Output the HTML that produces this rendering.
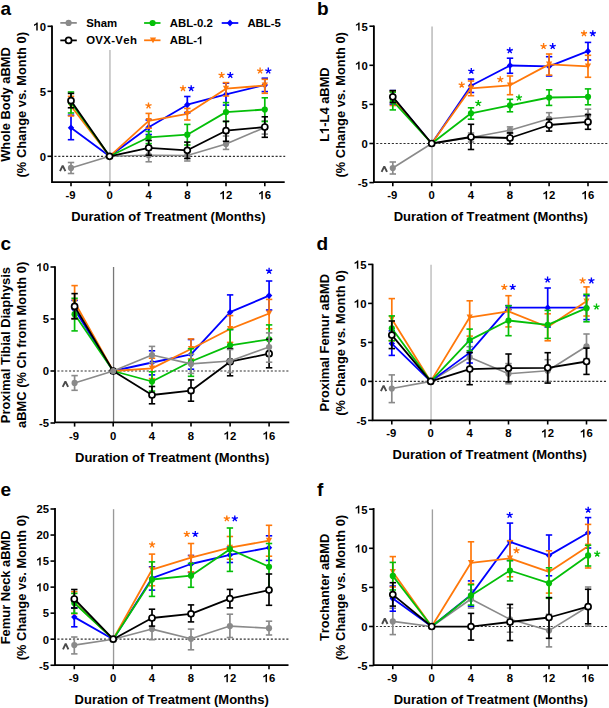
<!DOCTYPE html>
<html><head><meta charset="utf-8"><style>
html,body{margin:0;padding:0;background:#fff;width:609px;height:708px;overflow:hidden;position:relative;font-family:"Liberation Sans",sans-serif}
</style></head><body>
<svg width="609" height="708" viewBox="0 0 609 708" style="position:absolute;left:0;top:0">
<g font-family='"Liberation Sans", sans-serif' style="font-kerning:none">
<text x="0.50" y="15.20" font-size="19" text-anchor="start" fill="#000" font-weight="bold" >a</text>
<line x1="109.95" y1="50.00" x2="109.95" y2="182.10" stroke="#b8b8b8" stroke-width="1.4" />
<line x1="54.40" y1="156.30" x2="285.20" y2="156.30" stroke="#303030" stroke-width="1.2" stroke-dasharray="2.1 1.78"/>
<line x1="47.50" y1="156.30" x2="52.00" y2="156.30" stroke="#000" stroke-width="1.6" />
<text x="39.72" y="160.60" font-size="11.3" fill="#000" font-weight="bold" >0</text>
<line x1="47.50" y1="91.30" x2="52.00" y2="91.30" stroke="#000" stroke-width="1.6" />
<text x="39.72" y="95.60" font-size="11.3" fill="#000" font-weight="bold" >5</text>
<line x1="47.50" y1="26.30" x2="52.00" y2="26.30" stroke="#000" stroke-width="1.6" />
<path d="M37.72,30.60 L37.72,22.51 L36.65,22.51 L36.09,23.26 L35.13,23.99 L34.00,24.50 L34.00,25.91 L35.01,25.52 L35.69,25.12 L36.26,24.72 L36.26,30.60Z" fill="#000"/>
<text x="39.72" y="30.60" font-size="11.3" fill="#000" font-weight="bold" >0</text>
<path d="M52.00,25.40 L52.00,182.10 L284.70,182.10" fill="none" stroke="#000" stroke-width="1.85"/>
<line x1="71.00" y1="182.10" x2="71.00" y2="186.30" stroke="#000" stroke-width="1.6" />
<text x="65.38" y="199.20" font-size="11.3" fill="#000" font-weight="bold" >-9</text>
<line x1="109.60" y1="182.10" x2="109.60" y2="186.30" stroke="#000" stroke-width="1.6" />
<text x="106.46" y="199.20" font-size="11.3" fill="#000" font-weight="bold" >0</text>
<line x1="148.70" y1="182.10" x2="148.70" y2="186.30" stroke="#000" stroke-width="1.6" />
<text x="145.56" y="199.20" font-size="11.3" fill="#000" font-weight="bold" >4</text>
<line x1="187.30" y1="182.10" x2="187.30" y2="186.30" stroke="#000" stroke-width="1.6" />
<text x="184.16" y="199.20" font-size="11.3" fill="#000" font-weight="bold" >8</text>
<line x1="226.00" y1="182.10" x2="226.00" y2="186.30" stroke="#000" stroke-width="1.6" />
<path d="M224.01,199.20 L224.01,191.11 L222.94,191.11 L222.37,191.85 L221.41,192.59 L220.28,193.10 L220.28,194.51 L221.30,194.11 L221.98,193.72 L222.54,193.32 L222.54,199.20Z" fill="#000"/>
<text x="226.00" y="199.20" font-size="11.3" fill="#000" font-weight="bold" >2</text>
<line x1="264.80" y1="182.10" x2="264.80" y2="186.30" stroke="#000" stroke-width="1.6" />
<path d="M262.81,199.20 L262.81,191.11 L261.74,191.11 L261.17,191.85 L260.21,192.59 L259.08,193.10 L259.08,194.51 L260.10,194.11 L260.78,193.72 L261.34,193.32 L261.34,199.20Z" fill="#000"/>
<text x="264.80" y="199.20" font-size="11.3" fill="#000" font-weight="bold" >6</text>
<text x="168.35" y="220.70" font-size="13" text-anchor="middle" fill="#000" font-weight="bold" >Duration of Treatment (Months)</text>
<text transform="translate(10.20,104.50) rotate(-90)" font-size="12.9" text-anchor="middle" font-weight="bold">Whole Body aBMD</text>
<text transform="translate(25.60,104.75) rotate(-90)" font-size="12.9" text-anchor="middle" font-weight="bold">(% Change vs. Month 0)</text>
<polyline fill="none" stroke="#8a8a8a" stroke-width="1.6" stroke-linejoin="round" points="71.00,167.90 109.60,156.30 148.70,155.20 187.30,155.50 226.00,144.00 264.80,127.50"/>
<line x1="71.00" y1="162.50" x2="71.00" y2="173.50" stroke="#8a8a8a" stroke-width="1.7" />
<line x1="67.80" y1="162.50" x2="74.20" y2="162.50" stroke="#8a8a8a" stroke-width="1.6" />
<line x1="67.80" y1="173.50" x2="74.20" y2="173.50" stroke="#8a8a8a" stroke-width="1.6" />
<line x1="148.70" y1="148.80" x2="148.70" y2="161.80" stroke="#8a8a8a" stroke-width="1.7" />
<line x1="145.50" y1="148.80" x2="151.90" y2="148.80" stroke="#8a8a8a" stroke-width="1.6" />
<line x1="145.50" y1="161.80" x2="151.90" y2="161.80" stroke="#8a8a8a" stroke-width="1.6" />
<line x1="187.30" y1="150.00" x2="187.30" y2="161.00" stroke="#8a8a8a" stroke-width="1.7" />
<line x1="184.10" y1="150.00" x2="190.50" y2="150.00" stroke="#8a8a8a" stroke-width="1.6" />
<line x1="184.10" y1="161.00" x2="190.50" y2="161.00" stroke="#8a8a8a" stroke-width="1.6" />
<line x1="226.00" y1="136.00" x2="226.00" y2="149.40" stroke="#8a8a8a" stroke-width="1.7" />
<line x1="222.80" y1="136.00" x2="229.20" y2="136.00" stroke="#8a8a8a" stroke-width="1.6" />
<line x1="222.80" y1="149.40" x2="229.20" y2="149.40" stroke="#8a8a8a" stroke-width="1.6" />
<line x1="264.80" y1="121.00" x2="264.80" y2="134.10" stroke="#8a8a8a" stroke-width="1.7" />
<line x1="261.60" y1="121.00" x2="268.00" y2="121.00" stroke="#8a8a8a" stroke-width="1.6" />
<line x1="261.60" y1="134.10" x2="268.00" y2="134.10" stroke="#8a8a8a" stroke-width="1.6" />
<circle cx="71.00" cy="167.90" r="3.1" fill="#8a8a8a"/>
<circle cx="109.60" cy="156.30" r="3.1" fill="#8a8a8a"/>
<circle cx="148.70" cy="155.20" r="3.1" fill="#8a8a8a"/>
<circle cx="187.30" cy="155.50" r="3.1" fill="#8a8a8a"/>
<circle cx="226.00" cy="144.00" r="3.1" fill="#8a8a8a"/>
<circle cx="264.80" cy="127.50" r="3.1" fill="#8a8a8a"/>
<polyline fill="none" stroke="#0000ff" stroke-width="1.8" stroke-linejoin="round" points="71.00,127.80 109.60,156.30 148.70,127.30 187.30,104.70 226.00,94.40 264.80,85.00"/>
<line x1="71.00" y1="115.20" x2="71.00" y2="139.70" stroke="#0000ff" stroke-width="1.7" />
<line x1="67.80" y1="115.20" x2="74.20" y2="115.20" stroke="#0000ff" stroke-width="1.6" />
<line x1="67.80" y1="139.70" x2="74.20" y2="139.70" stroke="#0000ff" stroke-width="1.6" />
<line x1="148.70" y1="120.00" x2="148.70" y2="134.50" stroke="#0000ff" stroke-width="1.7" />
<line x1="145.50" y1="120.00" x2="151.90" y2="120.00" stroke="#0000ff" stroke-width="1.6" />
<line x1="145.50" y1="134.50" x2="151.90" y2="134.50" stroke="#0000ff" stroke-width="1.6" />
<line x1="187.30" y1="96.50" x2="187.30" y2="112.90" stroke="#0000ff" stroke-width="1.7" />
<line x1="184.10" y1="96.50" x2="190.50" y2="96.50" stroke="#0000ff" stroke-width="1.6" />
<line x1="184.10" y1="112.90" x2="190.50" y2="112.90" stroke="#0000ff" stroke-width="1.6" />
<line x1="226.00" y1="83.20" x2="226.00" y2="105.10" stroke="#0000ff" stroke-width="1.7" />
<line x1="222.80" y1="83.20" x2="229.20" y2="83.20" stroke="#0000ff" stroke-width="1.6" />
<line x1="222.80" y1="105.10" x2="229.20" y2="105.10" stroke="#0000ff" stroke-width="1.6" />
<line x1="264.80" y1="78.20" x2="264.80" y2="91.60" stroke="#0000ff" stroke-width="1.7" />
<line x1="261.60" y1="78.20" x2="268.00" y2="78.20" stroke="#0000ff" stroke-width="1.6" />
<line x1="261.60" y1="91.60" x2="268.00" y2="91.60" stroke="#0000ff" stroke-width="1.6" />
<path d="M71.00,124.40 L74.20,127.80 L71.00,131.20 L67.80,127.80Z" fill="#0000ff"/>
<path d="M109.60,152.90 L112.80,156.30 L109.60,159.70 L106.40,156.30Z" fill="#0000ff"/>
<path d="M148.70,123.90 L151.90,127.30 L148.70,130.70 L145.50,127.30Z" fill="#0000ff"/>
<path d="M187.30,101.30 L190.50,104.70 L187.30,108.10 L184.10,104.70Z" fill="#0000ff"/>
<path d="M226.00,91.00 L229.20,94.40 L226.00,97.80 L222.80,94.40Z" fill="#0000ff"/>
<path d="M264.80,81.60 L268.00,85.00 L264.80,88.40 L261.60,85.00Z" fill="#0000ff"/>
<polyline fill="none" stroke="#ff780a" stroke-width="1.8" stroke-linejoin="round" points="71.00,106.00 109.60,156.30 148.70,120.80 187.30,113.80 226.00,88.70 264.80,85.50"/>
<line x1="71.00" y1="96.40" x2="71.00" y2="116.00" stroke="#ff780a" stroke-width="1.7" />
<line x1="67.80" y1="96.40" x2="74.20" y2="96.40" stroke="#ff780a" stroke-width="1.6" />
<line x1="67.80" y1="116.00" x2="74.20" y2="116.00" stroke="#ff780a" stroke-width="1.6" />
<line x1="148.70" y1="113.40" x2="148.70" y2="128.20" stroke="#ff780a" stroke-width="1.7" />
<line x1="145.50" y1="113.40" x2="151.90" y2="113.40" stroke="#ff780a" stroke-width="1.6" />
<line x1="145.50" y1="128.20" x2="151.90" y2="128.20" stroke="#ff780a" stroke-width="1.6" />
<line x1="187.30" y1="108.40" x2="187.30" y2="120.00" stroke="#ff780a" stroke-width="1.7" />
<line x1="184.10" y1="108.40" x2="190.50" y2="108.40" stroke="#ff780a" stroke-width="1.6" />
<line x1="184.10" y1="120.00" x2="190.50" y2="120.00" stroke="#ff780a" stroke-width="1.6" />
<line x1="226.00" y1="82.60" x2="226.00" y2="96.00" stroke="#ff780a" stroke-width="1.7" />
<line x1="222.80" y1="82.60" x2="229.20" y2="82.60" stroke="#ff780a" stroke-width="1.6" />
<line x1="222.80" y1="96.00" x2="229.20" y2="96.00" stroke="#ff780a" stroke-width="1.6" />
<line x1="264.80" y1="79.30" x2="264.80" y2="93.30" stroke="#ff780a" stroke-width="1.7" />
<line x1="261.60" y1="79.30" x2="268.00" y2="79.30" stroke="#ff780a" stroke-width="1.6" />
<line x1="261.60" y1="93.30" x2="268.00" y2="93.30" stroke="#ff780a" stroke-width="1.6" />
<path d="M67.90,103.10 L74.10,103.10 L71.00,108.90Z" fill="#ff780a"/>
<path d="M106.50,153.40 L112.70,153.40 L109.60,159.20Z" fill="#ff780a"/>
<path d="M145.60,117.90 L151.80,117.90 L148.70,123.70Z" fill="#ff780a"/>
<path d="M184.20,110.90 L190.40,110.90 L187.30,116.70Z" fill="#ff780a"/>
<path d="M222.90,85.80 L229.10,85.80 L226.00,91.60Z" fill="#ff780a"/>
<path d="M261.70,82.60 L267.90,82.60 L264.80,88.40Z" fill="#ff780a"/>
<polyline fill="none" stroke="#04bf08" stroke-width="1.8" stroke-linejoin="round" points="71.00,102.50 109.60,156.30 148.70,137.30 187.30,134.70 226.00,112.10 264.80,109.50"/>
<line x1="71.00" y1="92.00" x2="71.00" y2="113.00" stroke="#04bf08" stroke-width="1.7" />
<line x1="67.80" y1="92.00" x2="74.20" y2="92.00" stroke="#04bf08" stroke-width="1.6" />
<line x1="67.80" y1="113.00" x2="74.20" y2="113.00" stroke="#04bf08" stroke-width="1.6" />
<line x1="148.70" y1="131.40" x2="148.70" y2="143.60" stroke="#04bf08" stroke-width="1.7" />
<line x1="145.50" y1="131.40" x2="151.90" y2="131.40" stroke="#04bf08" stroke-width="1.6" />
<line x1="145.50" y1="143.60" x2="151.90" y2="143.60" stroke="#04bf08" stroke-width="1.6" />
<line x1="187.30" y1="124.40" x2="187.30" y2="145.00" stroke="#04bf08" stroke-width="1.7" />
<line x1="184.10" y1="124.40" x2="190.50" y2="124.40" stroke="#04bf08" stroke-width="1.6" />
<line x1="184.10" y1="145.00" x2="190.50" y2="145.00" stroke="#04bf08" stroke-width="1.6" />
<line x1="226.00" y1="102.60" x2="226.00" y2="121.60" stroke="#04bf08" stroke-width="1.7" />
<line x1="222.80" y1="102.60" x2="229.20" y2="102.60" stroke="#04bf08" stroke-width="1.6" />
<line x1="222.80" y1="121.60" x2="229.20" y2="121.60" stroke="#04bf08" stroke-width="1.6" />
<line x1="264.80" y1="97.80" x2="264.80" y2="121.50" stroke="#04bf08" stroke-width="1.7" />
<line x1="261.60" y1="97.80" x2="268.00" y2="97.80" stroke="#04bf08" stroke-width="1.6" />
<line x1="261.60" y1="121.50" x2="268.00" y2="121.50" stroke="#04bf08" stroke-width="1.6" />
<circle cx="71.00" cy="102.50" r="3.1" fill="#04bf08"/>
<circle cx="109.60" cy="156.30" r="3.1" fill="#04bf08"/>
<circle cx="148.70" cy="137.30" r="3.1" fill="#04bf08"/>
<circle cx="187.30" cy="134.70" r="3.1" fill="#04bf08"/>
<circle cx="226.00" cy="112.10" r="3.1" fill="#04bf08"/>
<circle cx="264.80" cy="109.50" r="3.1" fill="#04bf08"/>
<polyline fill="none" stroke="#000" stroke-width="1.8" stroke-linejoin="round" points="71.00,100.70 109.60,156.30 148.70,147.80 187.30,150.30 226.00,130.70 264.80,127.00"/>
<line x1="71.00" y1="93.40" x2="71.00" y2="107.80" stroke="#000" stroke-width="1.7" />
<line x1="67.80" y1="93.40" x2="74.20" y2="93.40" stroke="#000" stroke-width="1.6" />
<line x1="67.80" y1="107.80" x2="74.20" y2="107.80" stroke="#000" stroke-width="1.6" />
<line x1="148.70" y1="140.50" x2="148.70" y2="155.20" stroke="#000" stroke-width="1.7" />
<line x1="145.50" y1="140.50" x2="151.90" y2="140.50" stroke="#000" stroke-width="1.6" />
<line x1="145.50" y1="155.20" x2="151.90" y2="155.20" stroke="#000" stroke-width="1.6" />
<line x1="187.30" y1="142.10" x2="187.30" y2="158.50" stroke="#000" stroke-width="1.7" />
<line x1="184.10" y1="142.10" x2="190.50" y2="142.10" stroke="#000" stroke-width="1.6" />
<line x1="184.10" y1="158.50" x2="190.50" y2="158.50" stroke="#000" stroke-width="1.6" />
<line x1="226.00" y1="121.30" x2="226.00" y2="141.30" stroke="#000" stroke-width="1.7" />
<line x1="222.80" y1="121.30" x2="229.20" y2="121.30" stroke="#000" stroke-width="1.6" />
<line x1="222.80" y1="141.30" x2="229.20" y2="141.30" stroke="#000" stroke-width="1.6" />
<line x1="264.80" y1="116.80" x2="264.80" y2="137.30" stroke="#000" stroke-width="1.7" />
<line x1="261.60" y1="116.80" x2="268.00" y2="116.80" stroke="#000" stroke-width="1.6" />
<line x1="261.60" y1="137.30" x2="268.00" y2="137.30" stroke="#000" stroke-width="1.6" />
<circle cx="71.00" cy="100.70" r="3.0" fill="#fff" stroke="#000" stroke-width="1.7"/>
<circle cx="109.60" cy="156.30" r="3.0" fill="#fff" stroke="#000" stroke-width="1.7"/>
<circle cx="148.70" cy="147.80" r="3.0" fill="#fff" stroke="#000" stroke-width="1.7"/>
<circle cx="187.30" cy="150.30" r="3.0" fill="#fff" stroke="#000" stroke-width="1.7"/>
<circle cx="226.00" cy="130.70" r="3.0" fill="#fff" stroke="#000" stroke-width="1.7"/>
<circle cx="264.80" cy="127.00" r="3.0" fill="#fff" stroke="#000" stroke-width="1.7"/>
<path d="M148.50,105.70 L148.50,102.50 M148.50,105.70 L151.54,104.71 M148.50,105.70 L150.38,108.29 M148.50,105.70 L146.62,108.29 M148.50,105.70 L145.46,104.71 " stroke="#ff780a" stroke-width="1.35" fill="none"/>
<path d="M183.00,88.40 L183.00,85.20 M183.00,88.40 L186.04,87.41 M183.00,88.40 L184.88,90.99 M183.00,88.40 L181.12,90.99 M183.00,88.40 L179.96,87.41 " stroke="#ff780a" stroke-width="1.35" fill="none"/>
<path d="M191.20,88.40 L191.20,85.20 M191.20,88.40 L194.24,87.41 M191.20,88.40 L193.08,90.99 M191.20,88.40 L189.32,90.99 M191.20,88.40 L188.16,87.41 " stroke="#0000ff" stroke-width="1.35" fill="none"/>
<path d="M221.60,75.20 L221.60,72.00 M221.60,75.20 L224.64,74.21 M221.60,75.20 L223.48,77.79 M221.60,75.20 L219.72,77.79 M221.60,75.20 L218.56,74.21 " stroke="#ff780a" stroke-width="1.35" fill="none"/>
<path d="M230.30,75.20 L230.30,72.00 M230.30,75.20 L233.34,74.21 M230.30,75.20 L232.18,77.79 M230.30,75.20 L228.42,77.79 M230.30,75.20 L227.26,74.21 " stroke="#0000ff" stroke-width="1.35" fill="none"/>
<path d="M260.10,70.80 L260.10,67.60 M260.10,70.80 L263.14,69.81 M260.10,70.80 L261.98,73.39 M260.10,70.80 L258.22,73.39 M260.10,70.80 L257.06,69.81 " stroke="#ff780a" stroke-width="1.35" fill="none"/>
<path d="M268.30,70.80 L268.30,67.60 M268.30,70.80 L271.34,69.81 M268.30,70.80 L270.18,73.39 M268.30,70.80 L266.42,73.39 M268.30,70.80 L265.26,69.81 " stroke="#0000ff" stroke-width="1.35" fill="none"/>
<polyline points="60.00,171.20 62.70,165.60 65.40,171.20" fill="none" stroke="#4a4a4a" stroke-width="1.9" stroke-linejoin="bevel"/>
<text x="317.00" y="15.20" font-size="19" text-anchor="start" fill="#000" font-weight="bold" >b</text>
<line x1="432.05" y1="26.60" x2="432.05" y2="182.10" stroke="#b5b5b5" stroke-width="1.4" />
<line x1="376.30" y1="143.50" x2="608.20" y2="143.50" stroke="#303030" stroke-width="1.2" stroke-dasharray="2.1 1.78"/>
<line x1="369.40" y1="182.60" x2="373.90" y2="182.60" stroke="#000" stroke-width="1.6" />
<text x="357.85" y="186.90" font-size="11.3" fill="#000" font-weight="bold" >-5</text>
<line x1="369.40" y1="143.50" x2="373.90" y2="143.50" stroke="#000" stroke-width="1.6" />
<text x="361.62" y="147.80" font-size="11.3" fill="#000" font-weight="bold" >0</text>
<line x1="369.40" y1="104.40" x2="373.90" y2="104.40" stroke="#000" stroke-width="1.6" />
<text x="361.62" y="108.70" font-size="11.3" fill="#000" font-weight="bold" >5</text>
<line x1="369.40" y1="65.30" x2="373.90" y2="65.30" stroke="#000" stroke-width="1.6" />
<path d="M359.62,69.60 L359.62,61.51 L358.55,61.51 L357.99,62.25 L357.03,62.99 L355.90,63.50 L355.90,64.91 L356.91,64.51 L357.59,64.12 L358.16,63.72 L358.16,69.60Z" fill="#000"/>
<text x="361.62" y="69.60" font-size="11.3" fill="#000" font-weight="bold" >0</text>
<line x1="369.40" y1="26.20" x2="373.90" y2="26.20" stroke="#000" stroke-width="1.6" />
<path d="M359.62,30.50 L359.62,22.41 L358.55,22.41 L357.99,23.15 L357.03,23.89 L355.90,24.40 L355.90,25.81 L356.91,25.41 L357.59,25.02 L358.16,24.62 L358.16,30.50Z" fill="#000"/>
<text x="361.62" y="30.50" font-size="11.3" fill="#000" font-weight="bold" >5</text>
<path d="M373.90,25.50 L373.90,182.10 L607.70,182.10" fill="none" stroke="#000" stroke-width="1.85"/>
<line x1="392.80" y1="182.10" x2="392.80" y2="186.30" stroke="#000" stroke-width="1.6" />
<text x="387.18" y="199.20" font-size="11.3" fill="#000" font-weight="bold" >-9</text>
<line x1="431.70" y1="182.10" x2="431.70" y2="186.30" stroke="#000" stroke-width="1.6" />
<text x="428.56" y="199.20" font-size="11.3" fill="#000" font-weight="bold" >0</text>
<line x1="471.00" y1="182.10" x2="471.00" y2="186.30" stroke="#000" stroke-width="1.6" />
<text x="467.86" y="199.20" font-size="11.3" fill="#000" font-weight="bold" >4</text>
<line x1="510.00" y1="182.10" x2="510.00" y2="186.30" stroke="#000" stroke-width="1.6" />
<text x="506.86" y="199.20" font-size="11.3" fill="#000" font-weight="bold" >8</text>
<line x1="549.10" y1="182.10" x2="549.10" y2="186.30" stroke="#000" stroke-width="1.6" />
<path d="M547.11,199.20 L547.11,191.11 L546.04,191.11 L545.47,191.85 L544.51,192.59 L543.38,193.10 L543.38,194.51 L544.40,194.11 L545.08,193.72 L545.64,193.32 L545.64,199.20Z" fill="#000"/>
<text x="549.10" y="199.20" font-size="11.3" fill="#000" font-weight="bold" >2</text>
<line x1="588.00" y1="182.10" x2="588.00" y2="186.30" stroke="#000" stroke-width="1.6" />
<path d="M586.01,199.20 L586.01,191.11 L584.94,191.11 L584.37,191.85 L583.41,192.59 L582.28,193.10 L582.28,194.51 L583.30,194.11 L583.98,193.72 L584.54,193.32 L584.54,199.20Z" fill="#000"/>
<text x="588.00" y="199.20" font-size="11.3" fill="#000" font-weight="bold" >6</text>
<text x="490.80" y="220.70" font-size="13" text-anchor="middle" fill="#000" font-weight="bold" >Duration of Treatment (Months)</text>
<g transform="translate(329.00,104.55) rotate(-90)">
<text x="-37.27" y="0.00" font-size="12.9" fill="#000" font-weight="bold" >L</text>
<path d="M-24.49,0.00 L-24.49,-9.24 L-25.71,-9.24 L-26.36,-8.38 L-27.46,-7.55 L-28.75,-6.97 L-28.75,-5.35 L-27.58,-5.81 L-26.81,-6.26 L-26.17,-6.71 L-26.17,0.00Z" fill="#000"/>
<text x="-22.22" y="0.00" font-size="12.9" fill="#000" font-weight="bold" >-L4 aBMD</text>
</g>
<text transform="translate(345.00,104.80) rotate(-90)" font-size="12.9" text-anchor="middle" font-weight="bold">(% Change vs. Month 0)</text>
<polyline fill="none" stroke="#8a8a8a" stroke-width="1.6" stroke-linejoin="round" points="392.80,168.00 431.70,143.50 471.00,137.50 510.00,130.20 549.10,118.80 588.00,115.50"/>
<line x1="392.80" y1="162.00" x2="392.80" y2="174.00" stroke="#8a8a8a" stroke-width="1.7" />
<line x1="389.60" y1="162.00" x2="396.00" y2="162.00" stroke="#8a8a8a" stroke-width="1.6" />
<line x1="389.60" y1="174.00" x2="396.00" y2="174.00" stroke="#8a8a8a" stroke-width="1.6" />
<line x1="471.00" y1="133.00" x2="471.00" y2="142.00" stroke="#8a8a8a" stroke-width="1.7" />
<line x1="467.80" y1="133.00" x2="474.20" y2="133.00" stroke="#8a8a8a" stroke-width="1.6" />
<line x1="467.80" y1="142.00" x2="474.20" y2="142.00" stroke="#8a8a8a" stroke-width="1.6" />
<line x1="510.00" y1="126.90" x2="510.00" y2="133.50" stroke="#8a8a8a" stroke-width="1.7" />
<line x1="506.80" y1="126.90" x2="513.20" y2="126.90" stroke="#8a8a8a" stroke-width="1.6" />
<line x1="506.80" y1="133.50" x2="513.20" y2="133.50" stroke="#8a8a8a" stroke-width="1.6" />
<line x1="549.10" y1="112.70" x2="549.10" y2="124.90" stroke="#8a8a8a" stroke-width="1.7" />
<line x1="545.90" y1="112.70" x2="552.30" y2="112.70" stroke="#8a8a8a" stroke-width="1.6" />
<line x1="545.90" y1="124.90" x2="552.30" y2="124.90" stroke="#8a8a8a" stroke-width="1.6" />
<line x1="588.00" y1="109.10" x2="588.00" y2="121.90" stroke="#8a8a8a" stroke-width="1.7" />
<line x1="584.80" y1="109.10" x2="591.20" y2="109.10" stroke="#8a8a8a" stroke-width="1.6" />
<line x1="584.80" y1="121.90" x2="591.20" y2="121.90" stroke="#8a8a8a" stroke-width="1.6" />
<circle cx="392.80" cy="168.00" r="3.1" fill="#8a8a8a"/>
<circle cx="431.70" cy="143.50" r="3.1" fill="#8a8a8a"/>
<circle cx="471.00" cy="137.50" r="3.1" fill="#8a8a8a"/>
<circle cx="510.00" cy="130.20" r="3.1" fill="#8a8a8a"/>
<circle cx="549.10" cy="118.80" r="3.1" fill="#8a8a8a"/>
<circle cx="588.00" cy="115.50" r="3.1" fill="#8a8a8a"/>
<polyline fill="none" stroke="#0000ff" stroke-width="1.8" stroke-linejoin="round" points="392.80,97.40 431.70,143.50 471.00,85.70 510.00,65.50 549.10,66.30 588.00,51.20"/>
<line x1="392.80" y1="90.60" x2="392.80" y2="104.20" stroke="#0000ff" stroke-width="1.7" />
<line x1="389.60" y1="90.60" x2="396.00" y2="90.60" stroke="#0000ff" stroke-width="1.6" />
<line x1="389.60" y1="104.20" x2="396.00" y2="104.20" stroke="#0000ff" stroke-width="1.6" />
<line x1="471.00" y1="79.10" x2="471.00" y2="92.50" stroke="#0000ff" stroke-width="1.7" />
<line x1="467.80" y1="79.10" x2="474.20" y2="79.10" stroke="#0000ff" stroke-width="1.6" />
<line x1="467.80" y1="92.50" x2="474.20" y2="92.50" stroke="#0000ff" stroke-width="1.6" />
<line x1="510.00" y1="58.20" x2="510.00" y2="73.30" stroke="#0000ff" stroke-width="1.7" />
<line x1="506.80" y1="58.20" x2="513.20" y2="58.20" stroke="#0000ff" stroke-width="1.6" />
<line x1="506.80" y1="73.30" x2="513.20" y2="73.30" stroke="#0000ff" stroke-width="1.6" />
<line x1="549.10" y1="56.70" x2="549.10" y2="76.00" stroke="#0000ff" stroke-width="1.7" />
<line x1="545.90" y1="56.70" x2="552.30" y2="56.70" stroke="#0000ff" stroke-width="1.6" />
<line x1="545.90" y1="76.00" x2="552.30" y2="76.00" stroke="#0000ff" stroke-width="1.6" />
<line x1="588.00" y1="42.40" x2="588.00" y2="60.00" stroke="#0000ff" stroke-width="1.7" />
<line x1="584.80" y1="42.40" x2="591.20" y2="42.40" stroke="#0000ff" stroke-width="1.6" />
<line x1="584.80" y1="60.00" x2="591.20" y2="60.00" stroke="#0000ff" stroke-width="1.6" />
<path d="M392.80,94.00 L396.00,97.40 L392.80,100.80 L389.60,97.40Z" fill="#0000ff"/>
<path d="M431.70,140.10 L434.90,143.50 L431.70,146.90 L428.50,143.50Z" fill="#0000ff"/>
<path d="M471.00,82.30 L474.20,85.70 L471.00,89.10 L467.80,85.70Z" fill="#0000ff"/>
<path d="M510.00,62.10 L513.20,65.50 L510.00,68.90 L506.80,65.50Z" fill="#0000ff"/>
<path d="M549.10,62.90 L552.30,66.30 L549.10,69.70 L545.90,66.30Z" fill="#0000ff"/>
<path d="M588.00,47.80 L591.20,51.20 L588.00,54.60 L584.80,51.20Z" fill="#0000ff"/>
<polyline fill="none" stroke="#ff780a" stroke-width="1.8" stroke-linejoin="round" points="392.80,98.50 431.70,143.50 471.00,88.30 510.00,85.30 549.10,64.40 588.00,66.30"/>
<line x1="392.80" y1="91.40" x2="392.80" y2="105.50" stroke="#ff780a" stroke-width="1.7" />
<line x1="389.60" y1="91.40" x2="396.00" y2="91.40" stroke="#ff780a" stroke-width="1.6" />
<line x1="389.60" y1="105.50" x2="396.00" y2="105.50" stroke="#ff780a" stroke-width="1.6" />
<line x1="471.00" y1="81.00" x2="471.00" y2="95.70" stroke="#ff780a" stroke-width="1.7" />
<line x1="467.80" y1="81.00" x2="474.20" y2="81.00" stroke="#ff780a" stroke-width="1.6" />
<line x1="467.80" y1="95.70" x2="474.20" y2="95.70" stroke="#ff780a" stroke-width="1.6" />
<line x1="510.00" y1="76.00" x2="510.00" y2="94.70" stroke="#ff780a" stroke-width="1.7" />
<line x1="506.80" y1="76.00" x2="513.20" y2="76.00" stroke="#ff780a" stroke-width="1.6" />
<line x1="506.80" y1="94.70" x2="513.20" y2="94.70" stroke="#ff780a" stroke-width="1.6" />
<line x1="549.10" y1="54.00" x2="549.10" y2="75.10" stroke="#ff780a" stroke-width="1.7" />
<line x1="545.90" y1="54.00" x2="552.30" y2="54.00" stroke="#ff780a" stroke-width="1.6" />
<line x1="545.90" y1="75.10" x2="552.30" y2="75.10" stroke="#ff780a" stroke-width="1.6" />
<line x1="588.00" y1="55.30" x2="588.00" y2="77.30" stroke="#ff780a" stroke-width="1.7" />
<line x1="584.80" y1="55.30" x2="591.20" y2="55.30" stroke="#ff780a" stroke-width="1.6" />
<line x1="584.80" y1="77.30" x2="591.20" y2="77.30" stroke="#ff780a" stroke-width="1.6" />
<path d="M389.70,95.60 L395.90,95.60 L392.80,101.40Z" fill="#ff780a"/>
<path d="M428.60,140.60 L434.80,140.60 L431.70,146.40Z" fill="#ff780a"/>
<path d="M467.90,85.40 L474.10,85.40 L471.00,91.20Z" fill="#ff780a"/>
<path d="M506.90,82.40 L513.10,82.40 L510.00,88.20Z" fill="#ff780a"/>
<path d="M546.00,61.50 L552.20,61.50 L549.10,67.30Z" fill="#ff780a"/>
<path d="M584.90,63.40 L591.10,63.40 L588.00,69.20Z" fill="#ff780a"/>
<polyline fill="none" stroke="#04bf08" stroke-width="1.8" stroke-linejoin="round" points="392.80,101.00 431.70,143.50 471.00,113.30 510.00,105.40 549.10,97.50 588.00,96.80"/>
<line x1="392.80" y1="92.10" x2="392.80" y2="109.90" stroke="#04bf08" stroke-width="1.7" />
<line x1="389.60" y1="92.10" x2="396.00" y2="92.10" stroke="#04bf08" stroke-width="1.6" />
<line x1="389.60" y1="109.90" x2="396.00" y2="109.90" stroke="#04bf08" stroke-width="1.6" />
<line x1="471.00" y1="107.80" x2="471.00" y2="119.20" stroke="#04bf08" stroke-width="1.7" />
<line x1="467.80" y1="107.80" x2="474.20" y2="107.80" stroke="#04bf08" stroke-width="1.6" />
<line x1="467.80" y1="119.20" x2="474.20" y2="119.20" stroke="#04bf08" stroke-width="1.6" />
<line x1="510.00" y1="99.30" x2="510.00" y2="111.80" stroke="#04bf08" stroke-width="1.7" />
<line x1="506.80" y1="99.30" x2="513.20" y2="99.30" stroke="#04bf08" stroke-width="1.6" />
<line x1="506.80" y1="111.80" x2="513.20" y2="111.80" stroke="#04bf08" stroke-width="1.6" />
<line x1="549.10" y1="89.80" x2="549.10" y2="105.40" stroke="#04bf08" stroke-width="1.7" />
<line x1="545.90" y1="89.80" x2="552.30" y2="89.80" stroke="#04bf08" stroke-width="1.6" />
<line x1="545.90" y1="105.40" x2="552.30" y2="105.40" stroke="#04bf08" stroke-width="1.6" />
<line x1="588.00" y1="88.90" x2="588.00" y2="104.80" stroke="#04bf08" stroke-width="1.7" />
<line x1="584.80" y1="88.90" x2="591.20" y2="88.90" stroke="#04bf08" stroke-width="1.6" />
<line x1="584.80" y1="104.80" x2="591.20" y2="104.80" stroke="#04bf08" stroke-width="1.6" />
<circle cx="392.80" cy="101.00" r="3.1" fill="#04bf08"/>
<circle cx="431.70" cy="143.50" r="3.1" fill="#04bf08"/>
<circle cx="471.00" cy="113.30" r="3.1" fill="#04bf08"/>
<circle cx="510.00" cy="105.40" r="3.1" fill="#04bf08"/>
<circle cx="549.10" cy="97.50" r="3.1" fill="#04bf08"/>
<circle cx="588.00" cy="96.80" r="3.1" fill="#04bf08"/>
<polyline fill="none" stroke="#000" stroke-width="1.8" stroke-linejoin="round" points="392.80,96.80 431.70,143.50 471.00,137.00 510.00,138.00 549.10,125.00 588.00,121.90"/>
<line x1="392.80" y1="90.60" x2="392.80" y2="102.50" stroke="#000" stroke-width="1.7" />
<line x1="389.60" y1="90.60" x2="396.00" y2="90.60" stroke="#000" stroke-width="1.6" />
<line x1="389.60" y1="102.50" x2="396.00" y2="102.50" stroke="#000" stroke-width="1.6" />
<line x1="471.00" y1="124.30" x2="471.00" y2="149.50" stroke="#000" stroke-width="1.7" />
<line x1="467.80" y1="124.30" x2="474.20" y2="124.30" stroke="#000" stroke-width="1.6" />
<line x1="467.80" y1="149.50" x2="474.20" y2="149.50" stroke="#000" stroke-width="1.6" />
<line x1="510.00" y1="132.90" x2="510.00" y2="143.90" stroke="#000" stroke-width="1.7" />
<line x1="506.80" y1="132.90" x2="513.20" y2="132.90" stroke="#000" stroke-width="1.6" />
<line x1="506.80" y1="143.90" x2="513.20" y2="143.90" stroke="#000" stroke-width="1.6" />
<line x1="549.10" y1="119.20" x2="549.10" y2="131.10" stroke="#000" stroke-width="1.7" />
<line x1="545.90" y1="119.20" x2="552.30" y2="119.20" stroke="#000" stroke-width="1.6" />
<line x1="545.90" y1="131.10" x2="552.30" y2="131.10" stroke="#000" stroke-width="1.6" />
<line x1="588.00" y1="114.60" x2="588.00" y2="129.30" stroke="#000" stroke-width="1.7" />
<line x1="584.80" y1="114.60" x2="591.20" y2="114.60" stroke="#000" stroke-width="1.6" />
<line x1="584.80" y1="129.30" x2="591.20" y2="129.30" stroke="#000" stroke-width="1.6" />
<circle cx="392.80" cy="96.80" r="3.0" fill="#fff" stroke="#000" stroke-width="1.7"/>
<circle cx="431.70" cy="143.50" r="3.0" fill="#fff" stroke="#000" stroke-width="1.7"/>
<circle cx="471.00" cy="137.00" r="3.0" fill="#fff" stroke="#000" stroke-width="1.7"/>
<circle cx="510.00" cy="138.00" r="3.0" fill="#fff" stroke="#000" stroke-width="1.7"/>
<circle cx="549.10" cy="125.00" r="3.0" fill="#fff" stroke="#000" stroke-width="1.7"/>
<circle cx="588.00" cy="121.90" r="3.0" fill="#fff" stroke="#000" stroke-width="1.7"/>
<path d="M471.30,71.10 L471.30,67.90 M471.30,71.10 L474.34,70.11 M471.30,71.10 L473.18,73.69 M471.30,71.10 L469.42,73.69 M471.30,71.10 L468.26,70.11 " stroke="#0000ff" stroke-width="1.35" fill="none"/>
<path d="M461.70,84.90 L461.70,81.70 M461.70,84.90 L464.74,83.91 M461.70,84.90 L463.58,87.49 M461.70,84.90 L459.82,87.49 M461.70,84.90 L458.66,83.91 " stroke="#ff780a" stroke-width="1.35" fill="none"/>
<path d="M478.30,103.20 L478.30,100.00 M478.30,103.20 L481.34,102.21 M478.30,103.20 L480.18,105.79 M478.30,103.20 L476.42,105.79 M478.30,103.20 L475.26,102.21 " stroke="#04bf08" stroke-width="1.35" fill="none"/>
<path d="M509.80,50.50 L509.80,47.30 M509.80,50.50 L512.84,49.51 M509.80,50.50 L511.68,53.09 M509.80,50.50 L507.92,53.09 M509.80,50.50 L506.76,49.51 " stroke="#0000ff" stroke-width="1.35" fill="none"/>
<path d="M500.30,79.40 L500.30,76.20 M500.30,79.40 L503.34,78.41 M500.30,79.40 L502.18,81.99 M500.30,79.40 L498.42,81.99 M500.30,79.40 L497.26,78.41 " stroke="#ff780a" stroke-width="1.35" fill="none"/>
<path d="M519.00,97.70 L519.00,94.50 M519.00,97.70 L522.04,96.71 M519.00,97.70 L520.88,100.29 M519.00,97.70 L517.12,100.29 M519.00,97.70 L515.96,96.71 " stroke="#04bf08" stroke-width="1.35" fill="none"/>
<path d="M543.60,46.30 L543.60,43.10 M543.60,46.30 L546.64,45.31 M543.60,46.30 L545.48,48.89 M543.60,46.30 L541.72,48.89 M543.60,46.30 L540.56,45.31 " stroke="#ff780a" stroke-width="1.35" fill="none"/>
<path d="M552.70,46.30 L552.70,43.10 M552.70,46.30 L555.74,45.31 M552.70,46.30 L554.58,48.89 M552.70,46.30 L550.82,48.89 M552.70,46.30 L549.66,45.31 " stroke="#0000ff" stroke-width="1.35" fill="none"/>
<path d="M584.00,33.50 L584.00,30.30 M584.00,33.50 L587.04,32.51 M584.00,33.50 L585.88,36.09 M584.00,33.50 L582.12,36.09 M584.00,33.50 L580.96,32.51 " stroke="#ff780a" stroke-width="1.35" fill="none"/>
<path d="M592.80,33.50 L592.80,30.30 M592.80,33.50 L595.84,32.51 M592.80,33.50 L594.68,36.09 M592.80,33.50 L590.92,36.09 M592.80,33.50 L589.76,32.51 " stroke="#0000ff" stroke-width="1.35" fill="none"/>
<polyline points="381.60,171.90 384.30,166.30 387.00,171.90" fill="none" stroke="#4a4a4a" stroke-width="1.9" stroke-linejoin="bevel"/>
<text x="0.50" y="250.00" font-size="19" text-anchor="start" fill="#000" font-weight="bold" >c</text>
<line x1="113.55" y1="267.00" x2="113.55" y2="422.40" stroke="#777" stroke-width="1.3" />
<line x1="57.40" y1="371.00" x2="289.80" y2="371.00" stroke="#303030" stroke-width="1.2" stroke-dasharray="2.1 1.78"/>
<line x1="50.50" y1="423.00" x2="55.00" y2="423.00" stroke="#000" stroke-width="1.6" />
<text x="38.95" y="427.30" font-size="11.3" fill="#000" font-weight="bold" >-5</text>
<line x1="50.50" y1="371.00" x2="55.00" y2="371.00" stroke="#000" stroke-width="1.6" />
<text x="42.72" y="375.30" font-size="11.3" fill="#000" font-weight="bold" >0</text>
<line x1="50.50" y1="319.00" x2="55.00" y2="319.00" stroke="#000" stroke-width="1.6" />
<text x="42.72" y="323.30" font-size="11.3" fill="#000" font-weight="bold" >5</text>
<line x1="50.50" y1="267.00" x2="55.00" y2="267.00" stroke="#000" stroke-width="1.6" />
<path d="M40.72,271.30 L40.72,263.21 L39.65,263.21 L39.09,263.95 L38.13,264.69 L37.00,265.20 L37.00,266.61 L38.01,266.22 L38.69,265.82 L39.26,265.42 L39.26,271.30Z" fill="#000"/>
<text x="42.72" y="271.30" font-size="11.3" fill="#000" font-weight="bold" >0</text>
<path d="M55.00,266.20 L55.00,422.40 L289.30,422.40" fill="none" stroke="#000" stroke-width="1.85"/>
<line x1="74.60" y1="422.40" x2="74.60" y2="426.60" stroke="#000" stroke-width="1.6" />
<text x="68.98" y="439.50" font-size="11.3" fill="#000" font-weight="bold" >-9</text>
<line x1="113.20" y1="422.40" x2="113.20" y2="426.60" stroke="#000" stroke-width="1.6" />
<text x="110.06" y="439.50" font-size="11.3" fill="#000" font-weight="bold" >0</text>
<line x1="152.00" y1="422.40" x2="152.00" y2="426.60" stroke="#000" stroke-width="1.6" />
<text x="148.86" y="439.50" font-size="11.3" fill="#000" font-weight="bold" >4</text>
<line x1="191.00" y1="422.40" x2="191.00" y2="426.60" stroke="#000" stroke-width="1.6" />
<text x="187.86" y="439.50" font-size="11.3" fill="#000" font-weight="bold" >8</text>
<line x1="230.10" y1="422.40" x2="230.10" y2="426.60" stroke="#000" stroke-width="1.6" />
<path d="M228.11,439.50 L228.11,431.41 L227.04,431.41 L226.47,432.15 L225.51,432.89 L224.38,433.40 L224.38,434.81 L225.40,434.42 L226.08,434.02 L226.64,433.62 L226.64,439.50Z" fill="#000"/>
<text x="230.10" y="439.50" font-size="11.3" fill="#000" font-weight="bold" >2</text>
<line x1="269.10" y1="422.40" x2="269.10" y2="426.60" stroke="#000" stroke-width="1.6" />
<path d="M267.11,439.50 L267.11,431.41 L266.04,431.41 L265.47,432.15 L264.51,432.89 L263.38,433.40 L263.38,434.81 L264.40,434.42 L265.08,434.02 L265.64,433.62 L265.64,439.50Z" fill="#000"/>
<text x="269.10" y="439.50" font-size="11.3" fill="#000" font-weight="bold" >6</text>
<text x="172.15" y="461.70" font-size="13" text-anchor="middle" fill="#000" font-weight="bold" >Duration of Treatment (Months)</text>
<text transform="translate(10.20,345.05) rotate(-90)" font-size="12.9" text-anchor="middle" font-weight="bold">Proximal Tibial Diaphysis</text>
<text transform="translate(25.60,344.85) rotate(-90)" font-size="12.9" text-anchor="middle" font-weight="bold">aBMC (% Ch from Month 0)</text>
<polyline fill="none" stroke="#0000ff" stroke-width="1.8" stroke-linejoin="round" points="74.60,309.50 113.20,371.00 152.00,362.50 191.00,354.30 230.10,312.20 269.10,295.60"/>
<line x1="74.60" y1="300.40" x2="74.60" y2="318.70" stroke="#0000ff" stroke-width="1.7" />
<line x1="71.40" y1="300.40" x2="77.80" y2="300.40" stroke="#0000ff" stroke-width="1.6" />
<line x1="71.40" y1="318.70" x2="77.80" y2="318.70" stroke="#0000ff" stroke-width="1.6" />
<line x1="152.00" y1="350.80" x2="152.00" y2="374.90" stroke="#0000ff" stroke-width="1.7" />
<line x1="148.80" y1="350.80" x2="155.20" y2="350.80" stroke="#0000ff" stroke-width="1.6" />
<line x1="148.80" y1="374.90" x2="155.20" y2="374.90" stroke="#0000ff" stroke-width="1.6" />
<line x1="191.00" y1="339.50" x2="191.00" y2="369.20" stroke="#0000ff" stroke-width="1.7" />
<line x1="187.80" y1="339.50" x2="194.20" y2="339.50" stroke="#0000ff" stroke-width="1.6" />
<line x1="187.80" y1="369.20" x2="194.20" y2="369.20" stroke="#0000ff" stroke-width="1.6" />
<line x1="230.10" y1="294.90" x2="230.10" y2="329.50" stroke="#0000ff" stroke-width="1.7" />
<line x1="226.90" y1="294.90" x2="233.30" y2="294.90" stroke="#0000ff" stroke-width="1.6" />
<line x1="226.90" y1="329.50" x2="233.30" y2="329.50" stroke="#0000ff" stroke-width="1.6" />
<line x1="269.10" y1="281.00" x2="269.10" y2="310.00" stroke="#0000ff" stroke-width="1.7" />
<line x1="265.90" y1="281.00" x2="272.30" y2="281.00" stroke="#0000ff" stroke-width="1.6" />
<line x1="265.90" y1="310.00" x2="272.30" y2="310.00" stroke="#0000ff" stroke-width="1.6" />
<path d="M74.60,306.10 L77.80,309.50 L74.60,312.90 L71.40,309.50Z" fill="#0000ff"/>
<path d="M113.20,367.60 L116.40,371.00 L113.20,374.40 L110.00,371.00Z" fill="#0000ff"/>
<path d="M152.00,359.10 L155.20,362.50 L152.00,365.90 L148.80,362.50Z" fill="#0000ff"/>
<path d="M191.00,350.90 L194.20,354.30 L191.00,357.70 L187.80,354.30Z" fill="#0000ff"/>
<path d="M230.10,308.80 L233.30,312.20 L230.10,315.60 L226.90,312.20Z" fill="#0000ff"/>
<path d="M269.10,292.20 L272.30,295.60 L269.10,299.00 L265.90,295.60Z" fill="#0000ff"/>
<polyline fill="none" stroke="#ff780a" stroke-width="1.8" stroke-linejoin="round" points="74.60,302.20 113.20,371.00 152.00,368.40 191.00,349.00 230.10,329.00 269.10,313.50"/>
<line x1="74.60" y1="285.60" x2="74.60" y2="318.70" stroke="#ff780a" stroke-width="1.7" />
<line x1="71.40" y1="285.60" x2="77.80" y2="285.60" stroke="#ff780a" stroke-width="1.6" />
<line x1="71.40" y1="318.70" x2="77.80" y2="318.70" stroke="#ff780a" stroke-width="1.6" />
<line x1="152.00" y1="358.20" x2="152.00" y2="378.60" stroke="#ff780a" stroke-width="1.7" />
<line x1="148.80" y1="358.20" x2="155.20" y2="358.20" stroke="#ff780a" stroke-width="1.6" />
<line x1="148.80" y1="378.60" x2="155.20" y2="378.60" stroke="#ff780a" stroke-width="1.6" />
<line x1="191.00" y1="338.90" x2="191.00" y2="359.00" stroke="#ff780a" stroke-width="1.7" />
<line x1="187.80" y1="338.90" x2="194.20" y2="338.90" stroke="#ff780a" stroke-width="1.6" />
<line x1="187.80" y1="359.00" x2="194.20" y2="359.00" stroke="#ff780a" stroke-width="1.6" />
<line x1="230.10" y1="315.60" x2="230.10" y2="342.40" stroke="#ff780a" stroke-width="1.7" />
<line x1="226.90" y1="315.60" x2="233.30" y2="315.60" stroke="#ff780a" stroke-width="1.6" />
<line x1="226.90" y1="342.40" x2="233.30" y2="342.40" stroke="#ff780a" stroke-width="1.6" />
<line x1="269.10" y1="299.40" x2="269.10" y2="328.80" stroke="#ff780a" stroke-width="1.7" />
<line x1="265.90" y1="299.40" x2="272.30" y2="299.40" stroke="#ff780a" stroke-width="1.6" />
<line x1="265.90" y1="328.80" x2="272.30" y2="328.80" stroke="#ff780a" stroke-width="1.6" />
<path d="M71.50,299.30 L77.70,299.30 L74.60,305.10Z" fill="#ff780a"/>
<path d="M110.10,368.10 L116.30,368.10 L113.20,373.90Z" fill="#ff780a"/>
<path d="M148.90,365.50 L155.10,365.50 L152.00,371.30Z" fill="#ff780a"/>
<path d="M187.90,346.10 L194.10,346.10 L191.00,351.90Z" fill="#ff780a"/>
<path d="M227.00,326.10 L233.20,326.10 L230.10,331.90Z" fill="#ff780a"/>
<path d="M266.00,310.60 L272.20,310.60 L269.10,316.40Z" fill="#ff780a"/>
<polyline fill="none" stroke="#04bf08" stroke-width="1.8" stroke-linejoin="round" points="74.60,314.20 113.20,371.00 152.00,381.50 191.00,361.50 230.10,345.30 269.10,339.30"/>
<line x1="74.60" y1="298.30" x2="74.60" y2="330.90" stroke="#04bf08" stroke-width="1.7" />
<line x1="71.40" y1="298.30" x2="77.80" y2="298.30" stroke="#04bf08" stroke-width="1.6" />
<line x1="71.40" y1="330.90" x2="77.80" y2="330.90" stroke="#04bf08" stroke-width="1.6" />
<line x1="152.00" y1="371.80" x2="152.00" y2="391.10" stroke="#04bf08" stroke-width="1.7" />
<line x1="148.80" y1="371.80" x2="155.20" y2="371.80" stroke="#04bf08" stroke-width="1.6" />
<line x1="148.80" y1="391.10" x2="155.20" y2="391.10" stroke="#04bf08" stroke-width="1.6" />
<line x1="191.00" y1="348.70" x2="191.00" y2="376.30" stroke="#04bf08" stroke-width="1.7" />
<line x1="187.80" y1="348.70" x2="194.20" y2="348.70" stroke="#04bf08" stroke-width="1.6" />
<line x1="187.80" y1="376.30" x2="194.20" y2="376.30" stroke="#04bf08" stroke-width="1.6" />
<line x1="230.10" y1="329.50" x2="230.10" y2="361.00" stroke="#04bf08" stroke-width="1.7" />
<line x1="226.90" y1="329.50" x2="233.30" y2="329.50" stroke="#04bf08" stroke-width="1.6" />
<line x1="226.90" y1="361.00" x2="233.30" y2="361.00" stroke="#04bf08" stroke-width="1.6" />
<line x1="269.10" y1="324.90" x2="269.10" y2="353.70" stroke="#04bf08" stroke-width="1.7" />
<line x1="265.90" y1="324.90" x2="272.30" y2="324.90" stroke="#04bf08" stroke-width="1.6" />
<line x1="265.90" y1="353.70" x2="272.30" y2="353.70" stroke="#04bf08" stroke-width="1.6" />
<circle cx="74.60" cy="314.20" r="3.1" fill="#04bf08"/>
<circle cx="113.20" cy="371.00" r="3.1" fill="#04bf08"/>
<circle cx="152.00" cy="381.50" r="3.1" fill="#04bf08"/>
<circle cx="191.00" cy="361.50" r="3.1" fill="#04bf08"/>
<circle cx="230.10" cy="345.30" r="3.1" fill="#04bf08"/>
<circle cx="269.10" cy="339.30" r="3.1" fill="#04bf08"/>
<polyline fill="none" stroke="#000" stroke-width="1.8" stroke-linejoin="round" points="74.60,306.40 113.20,371.00 152.00,395.00 191.00,390.70 230.10,361.70 269.10,353.70"/>
<line x1="74.60" y1="293.60" x2="74.60" y2="318.70" stroke="#000" stroke-width="1.7" />
<line x1="71.40" y1="293.60" x2="77.80" y2="293.60" stroke="#000" stroke-width="1.6" />
<line x1="71.40" y1="318.70" x2="77.80" y2="318.70" stroke="#000" stroke-width="1.6" />
<line x1="152.00" y1="386.50" x2="152.00" y2="403.80" stroke="#000" stroke-width="1.7" />
<line x1="148.80" y1="386.50" x2="155.20" y2="386.50" stroke="#000" stroke-width="1.6" />
<line x1="148.80" y1="403.80" x2="155.20" y2="403.80" stroke="#000" stroke-width="1.6" />
<line x1="191.00" y1="379.90" x2="191.00" y2="401.20" stroke="#000" stroke-width="1.7" />
<line x1="187.80" y1="379.90" x2="194.20" y2="379.90" stroke="#000" stroke-width="1.6" />
<line x1="187.80" y1="401.20" x2="194.20" y2="401.20" stroke="#000" stroke-width="1.6" />
<line x1="230.10" y1="348.60" x2="230.10" y2="375.80" stroke="#000" stroke-width="1.7" />
<line x1="226.90" y1="348.60" x2="233.30" y2="348.60" stroke="#000" stroke-width="1.6" />
<line x1="226.90" y1="375.80" x2="233.30" y2="375.80" stroke="#000" stroke-width="1.6" />
<line x1="269.10" y1="339.30" x2="269.10" y2="367.80" stroke="#000" stroke-width="1.7" />
<line x1="265.90" y1="339.30" x2="272.30" y2="339.30" stroke="#000" stroke-width="1.6" />
<line x1="265.90" y1="367.80" x2="272.30" y2="367.80" stroke="#000" stroke-width="1.6" />
<circle cx="74.60" cy="306.40" r="3.0" fill="#fff" stroke="#000" stroke-width="1.7"/>
<circle cx="113.20" cy="371.00" r="3.0" fill="#fff" stroke="#000" stroke-width="1.7"/>
<circle cx="152.00" cy="395.00" r="3.0" fill="#fff" stroke="#000" stroke-width="1.7"/>
<circle cx="191.00" cy="390.70" r="3.0" fill="#fff" stroke="#000" stroke-width="1.7"/>
<circle cx="230.10" cy="361.70" r="3.0" fill="#fff" stroke="#000" stroke-width="1.7"/>
<circle cx="269.10" cy="353.70" r="3.0" fill="#fff" stroke="#000" stroke-width="1.7"/>
<polyline fill="none" stroke="#8a8a8a" stroke-width="1.6" stroke-linejoin="round" points="74.60,382.90 113.20,371.00 152.00,355.00 191.00,363.90 230.10,361.00 269.10,347.00"/>
<line x1="74.60" y1="375.60" x2="74.60" y2="390.30" stroke="#8a8a8a" stroke-width="1.7" />
<line x1="71.40" y1="375.60" x2="77.80" y2="375.60" stroke="#8a8a8a" stroke-width="1.6" />
<line x1="71.40" y1="390.30" x2="77.80" y2="390.30" stroke="#8a8a8a" stroke-width="1.6" />
<line x1="152.00" y1="346.40" x2="152.00" y2="362.80" stroke="#8a8a8a" stroke-width="1.7" />
<line x1="148.80" y1="346.40" x2="155.20" y2="346.40" stroke="#8a8a8a" stroke-width="1.6" />
<line x1="148.80" y1="362.80" x2="155.20" y2="362.80" stroke="#8a8a8a" stroke-width="1.6" />
<line x1="191.00" y1="354.30" x2="191.00" y2="373.40" stroke="#8a8a8a" stroke-width="1.7" />
<line x1="187.80" y1="354.30" x2="194.20" y2="354.30" stroke="#8a8a8a" stroke-width="1.6" />
<line x1="187.80" y1="373.40" x2="194.20" y2="373.40" stroke="#8a8a8a" stroke-width="1.6" />
<line x1="230.10" y1="349.50" x2="230.10" y2="372.50" stroke="#8a8a8a" stroke-width="1.7" />
<line x1="226.90" y1="349.50" x2="233.30" y2="349.50" stroke="#8a8a8a" stroke-width="1.6" />
<line x1="226.90" y1="372.50" x2="233.30" y2="372.50" stroke="#8a8a8a" stroke-width="1.6" />
<line x1="269.10" y1="332.90" x2="269.10" y2="362.20" stroke="#8a8a8a" stroke-width="1.7" />
<line x1="265.90" y1="332.90" x2="272.30" y2="332.90" stroke="#8a8a8a" stroke-width="1.6" />
<line x1="265.90" y1="362.20" x2="272.30" y2="362.20" stroke="#8a8a8a" stroke-width="1.6" />
<circle cx="74.60" cy="382.90" r="3.1" fill="#8a8a8a"/>
<circle cx="113.20" cy="371.00" r="3.1" fill="#8a8a8a"/>
<circle cx="152.00" cy="355.00" r="3.1" fill="#8a8a8a"/>
<circle cx="191.00" cy="363.90" r="3.1" fill="#8a8a8a"/>
<circle cx="230.10" cy="361.00" r="3.1" fill="#8a8a8a"/>
<circle cx="269.10" cy="347.00" r="3.1" fill="#8a8a8a"/>
<path d="M269.10,271.00 L269.10,267.80 M269.10,271.00 L272.14,270.01 M269.10,271.00 L270.98,273.59 M269.10,271.00 L267.22,273.59 M269.10,271.00 L266.06,270.01 " stroke="#0000ff" stroke-width="1.35" fill="none"/>
<polyline points="62.70,386.90 65.40,381.30 68.10,386.90" fill="none" stroke="#4a4a4a" stroke-width="1.9" stroke-linejoin="bevel"/>
<text x="316.50" y="250.00" font-size="19" text-anchor="start" fill="#000" font-weight="bold" >d</text>
<line x1="431.05" y1="264.70" x2="431.05" y2="420.30" stroke="#bcbcbc" stroke-width="1.4" />
<line x1="375.00" y1="381.40" x2="607.30" y2="381.40" stroke="#303030" stroke-width="1.2" stroke-dasharray="2.1 1.78"/>
<line x1="368.10" y1="420.40" x2="372.60" y2="420.40" stroke="#000" stroke-width="1.6" />
<text x="356.55" y="424.70" font-size="11.3" fill="#000" font-weight="bold" >-5</text>
<line x1="368.10" y1="381.40" x2="372.60" y2="381.40" stroke="#000" stroke-width="1.6" />
<text x="360.32" y="385.70" font-size="11.3" fill="#000" font-weight="bold" >0</text>
<line x1="368.10" y1="342.40" x2="372.60" y2="342.40" stroke="#000" stroke-width="1.6" />
<text x="360.32" y="346.70" font-size="11.3" fill="#000" font-weight="bold" >5</text>
<line x1="368.10" y1="303.40" x2="372.60" y2="303.40" stroke="#000" stroke-width="1.6" />
<path d="M358.32,307.70 L358.32,299.61 L357.25,299.61 L356.69,300.35 L355.73,301.09 L354.60,301.60 L354.60,303.01 L355.61,302.62 L356.29,302.22 L356.86,301.82 L356.86,307.70Z" fill="#000"/>
<text x="360.32" y="307.70" font-size="11.3" fill="#000" font-weight="bold" >0</text>
<line x1="368.10" y1="264.40" x2="372.60" y2="264.40" stroke="#000" stroke-width="1.6" />
<path d="M358.32,268.70 L358.32,260.61 L357.25,260.61 L356.69,261.35 L355.73,262.09 L354.60,262.60 L354.60,264.01 L355.61,263.62 L356.29,263.22 L356.86,262.82 L356.86,268.70Z" fill="#000"/>
<text x="360.32" y="268.70" font-size="11.3" fill="#000" font-weight="bold" >5</text>
<path d="M372.60,263.70 L372.60,420.30 L606.80,420.30" fill="none" stroke="#000" stroke-width="1.85"/>
<line x1="391.80" y1="420.30" x2="391.80" y2="424.50" stroke="#000" stroke-width="1.6" />
<text x="386.18" y="437.40" font-size="11.3" fill="#000" font-weight="bold" >-9</text>
<line x1="430.70" y1="420.30" x2="430.70" y2="424.50" stroke="#000" stroke-width="1.6" />
<text x="427.56" y="437.40" font-size="11.3" fill="#000" font-weight="bold" >0</text>
<line x1="469.70" y1="420.30" x2="469.70" y2="424.50" stroke="#000" stroke-width="1.6" />
<text x="466.56" y="437.40" font-size="11.3" fill="#000" font-weight="bold" >4</text>
<line x1="508.50" y1="420.30" x2="508.50" y2="424.50" stroke="#000" stroke-width="1.6" />
<text x="505.36" y="437.40" font-size="11.3" fill="#000" font-weight="bold" >8</text>
<line x1="547.70" y1="420.30" x2="547.70" y2="424.50" stroke="#000" stroke-width="1.6" />
<path d="M545.71,437.40 L545.71,429.31 L544.64,429.31 L544.07,430.06 L543.11,430.79 L541.98,431.30 L541.98,432.71 L543.00,432.32 L543.68,431.92 L544.24,431.52 L544.24,437.40Z" fill="#000"/>
<text x="547.70" y="437.40" font-size="11.3" fill="#000" font-weight="bold" >2</text>
<line x1="586.50" y1="420.30" x2="586.50" y2="424.50" stroke="#000" stroke-width="1.6" />
<path d="M584.51,437.40 L584.51,429.31 L583.44,429.31 L582.87,430.06 L581.91,430.79 L580.78,431.30 L580.78,432.71 L581.80,432.32 L582.48,431.92 L583.04,431.52 L583.04,437.40Z" fill="#000"/>
<text x="586.50" y="437.40" font-size="11.3" fill="#000" font-weight="bold" >6</text>
<text x="489.70" y="458.80" font-size="13" text-anchor="middle" fill="#000" font-weight="bold" >Duration of Treatment (Months)</text>
<text transform="translate(329.00,342.75) rotate(-90)" font-size="12.9" text-anchor="middle" font-weight="bold">Proximal Femur aBMD</text>
<text transform="translate(345.00,343.00) rotate(-90)" font-size="12.9" text-anchor="middle" font-weight="bold">(% Change vs. Month 0)</text>
<polyline fill="none" stroke="#8a8a8a" stroke-width="1.6" stroke-linejoin="round" points="391.80,388.50 430.70,381.40 469.70,357.20 508.50,373.70 547.70,370.70 586.50,346.30"/>
<line x1="391.80" y1="374.90" x2="391.80" y2="402.60" stroke="#8a8a8a" stroke-width="1.7" />
<line x1="388.60" y1="374.90" x2="395.00" y2="374.90" stroke="#8a8a8a" stroke-width="1.6" />
<line x1="388.60" y1="402.60" x2="395.00" y2="402.60" stroke="#8a8a8a" stroke-width="1.6" />
<line x1="469.70" y1="346.70" x2="469.70" y2="367.70" stroke="#8a8a8a" stroke-width="1.7" />
<line x1="466.50" y1="346.70" x2="472.90" y2="346.70" stroke="#8a8a8a" stroke-width="1.6" />
<line x1="466.50" y1="367.70" x2="472.90" y2="367.70" stroke="#8a8a8a" stroke-width="1.6" />
<line x1="508.50" y1="363.60" x2="508.50" y2="383.80" stroke="#8a8a8a" stroke-width="1.7" />
<line x1="505.30" y1="363.60" x2="511.70" y2="363.60" stroke="#8a8a8a" stroke-width="1.6" />
<line x1="505.30" y1="383.80" x2="511.70" y2="383.80" stroke="#8a8a8a" stroke-width="1.6" />
<line x1="547.70" y1="359.70" x2="547.70" y2="381.70" stroke="#8a8a8a" stroke-width="1.7" />
<line x1="544.50" y1="359.70" x2="550.90" y2="359.70" stroke="#8a8a8a" stroke-width="1.6" />
<line x1="544.50" y1="381.70" x2="550.90" y2="381.70" stroke="#8a8a8a" stroke-width="1.6" />
<line x1="586.50" y1="334.00" x2="586.50" y2="358.60" stroke="#8a8a8a" stroke-width="1.7" />
<line x1="583.30" y1="334.00" x2="589.70" y2="334.00" stroke="#8a8a8a" stroke-width="1.6" />
<line x1="583.30" y1="358.60" x2="589.70" y2="358.60" stroke="#8a8a8a" stroke-width="1.6" />
<circle cx="391.80" cy="388.50" r="3.1" fill="#8a8a8a"/>
<circle cx="430.70" cy="381.40" r="3.1" fill="#8a8a8a"/>
<circle cx="469.70" cy="357.20" r="3.1" fill="#8a8a8a"/>
<circle cx="508.50" cy="373.70" r="3.1" fill="#8a8a8a"/>
<circle cx="547.70" cy="370.70" r="3.1" fill="#8a8a8a"/>
<circle cx="586.50" cy="346.30" r="3.1" fill="#8a8a8a"/>
<polyline fill="none" stroke="#0000ff" stroke-width="1.8" stroke-linejoin="round" points="391.80,343.60 430.70,381.40 469.70,352.60 508.50,307.60 547.70,307.70 586.50,307.70"/>
<line x1="391.80" y1="330.80" x2="391.80" y2="355.40" stroke="#0000ff" stroke-width="1.7" />
<line x1="388.60" y1="330.80" x2="395.00" y2="330.80" stroke="#0000ff" stroke-width="1.6" />
<line x1="388.60" y1="355.40" x2="395.00" y2="355.40" stroke="#0000ff" stroke-width="1.6" />
<line x1="469.70" y1="342.00" x2="469.70" y2="363.00" stroke="#0000ff" stroke-width="1.7" />
<line x1="466.50" y1="342.00" x2="472.90" y2="342.00" stroke="#0000ff" stroke-width="1.6" />
<line x1="466.50" y1="363.00" x2="472.90" y2="363.00" stroke="#0000ff" stroke-width="1.6" />
<line x1="508.50" y1="305.60" x2="508.50" y2="309.60" stroke="#0000ff" stroke-width="1.7" />
<line x1="505.30" y1="305.60" x2="511.70" y2="305.60" stroke="#0000ff" stroke-width="1.6" />
<line x1="505.30" y1="309.60" x2="511.70" y2="309.60" stroke="#0000ff" stroke-width="1.6" />
<line x1="547.70" y1="288.00" x2="547.70" y2="327.00" stroke="#0000ff" stroke-width="1.7" />
<line x1="544.50" y1="288.00" x2="550.90" y2="288.00" stroke="#0000ff" stroke-width="1.6" />
<line x1="544.50" y1="327.00" x2="550.90" y2="327.00" stroke="#0000ff" stroke-width="1.6" />
<line x1="586.50" y1="295.70" x2="586.50" y2="319.60" stroke="#0000ff" stroke-width="1.7" />
<line x1="583.30" y1="295.70" x2="589.70" y2="295.70" stroke="#0000ff" stroke-width="1.6" />
<line x1="583.30" y1="319.60" x2="589.70" y2="319.60" stroke="#0000ff" stroke-width="1.6" />
<path d="M391.80,340.20 L395.00,343.60 L391.80,347.00 L388.60,343.60Z" fill="#0000ff"/>
<path d="M430.70,378.00 L433.90,381.40 L430.70,384.80 L427.50,381.40Z" fill="#0000ff"/>
<path d="M469.70,349.20 L472.90,352.60 L469.70,356.00 L466.50,352.60Z" fill="#0000ff"/>
<path d="M508.50,304.20 L511.70,307.60 L508.50,311.00 L505.30,307.60Z" fill="#0000ff"/>
<path d="M547.70,304.30 L550.90,307.70 L547.70,311.10 L544.50,307.70Z" fill="#0000ff"/>
<path d="M586.50,304.30 L589.70,307.70 L586.50,311.10 L583.30,307.70Z" fill="#0000ff"/>
<polyline fill="none" stroke="#ff780a" stroke-width="1.8" stroke-linejoin="round" points="391.80,319.00 430.70,381.40 469.70,317.30 508.50,311.30 547.70,327.00 586.50,301.30"/>
<line x1="391.80" y1="298.60" x2="391.80" y2="340.70" stroke="#ff780a" stroke-width="1.7" />
<line x1="388.60" y1="298.60" x2="395.00" y2="298.60" stroke="#ff780a" stroke-width="1.6" />
<line x1="388.60" y1="340.70" x2="395.00" y2="340.70" stroke="#ff780a" stroke-width="1.6" />
<line x1="469.70" y1="300.80" x2="469.70" y2="336.10" stroke="#ff780a" stroke-width="1.7" />
<line x1="466.50" y1="300.80" x2="472.90" y2="300.80" stroke="#ff780a" stroke-width="1.6" />
<line x1="466.50" y1="336.10" x2="472.90" y2="336.10" stroke="#ff780a" stroke-width="1.6" />
<line x1="508.50" y1="295.70" x2="508.50" y2="326.90" stroke="#ff780a" stroke-width="1.7" />
<line x1="505.30" y1="295.70" x2="511.70" y2="295.70" stroke="#ff780a" stroke-width="1.6" />
<line x1="505.30" y1="326.90" x2="511.70" y2="326.90" stroke="#ff780a" stroke-width="1.6" />
<line x1="547.70" y1="313.80" x2="547.70" y2="340.80" stroke="#ff780a" stroke-width="1.7" />
<line x1="544.50" y1="313.80" x2="550.90" y2="313.80" stroke="#ff780a" stroke-width="1.6" />
<line x1="544.50" y1="340.80" x2="550.90" y2="340.80" stroke="#ff780a" stroke-width="1.6" />
<line x1="586.50" y1="286.90" x2="586.50" y2="316.00" stroke="#ff780a" stroke-width="1.7" />
<line x1="583.30" y1="286.90" x2="589.70" y2="286.90" stroke="#ff780a" stroke-width="1.6" />
<line x1="583.30" y1="316.00" x2="589.70" y2="316.00" stroke="#ff780a" stroke-width="1.6" />
<path d="M388.70,316.10 L394.90,316.10 L391.80,321.90Z" fill="#ff780a"/>
<path d="M427.60,378.50 L433.80,378.50 L430.70,384.30Z" fill="#ff780a"/>
<path d="M466.60,314.40 L472.80,314.40 L469.70,320.20Z" fill="#ff780a"/>
<path d="M505.40,308.40 L511.60,308.40 L508.50,314.20Z" fill="#ff780a"/>
<path d="M544.60,324.10 L550.80,324.10 L547.70,329.90Z" fill="#ff780a"/>
<path d="M583.40,298.40 L589.60,298.40 L586.50,304.20Z" fill="#ff780a"/>
<polyline fill="none" stroke="#04bf08" stroke-width="1.8" stroke-linejoin="round" points="391.80,328.30 430.70,381.40 469.70,340.10 508.50,320.50 547.70,324.80 586.50,308.20"/>
<line x1="391.80" y1="315.90" x2="391.80" y2="340.70" stroke="#04bf08" stroke-width="1.7" />
<line x1="388.60" y1="315.90" x2="395.00" y2="315.90" stroke="#04bf08" stroke-width="1.6" />
<line x1="388.60" y1="340.70" x2="395.00" y2="340.70" stroke="#04bf08" stroke-width="1.6" />
<line x1="469.70" y1="329.10" x2="469.70" y2="350.70" stroke="#04bf08" stroke-width="1.7" />
<line x1="466.50" y1="329.10" x2="472.90" y2="329.10" stroke="#04bf08" stroke-width="1.6" />
<line x1="466.50" y1="350.70" x2="472.90" y2="350.70" stroke="#04bf08" stroke-width="1.6" />
<line x1="508.50" y1="305.80" x2="508.50" y2="335.70" stroke="#04bf08" stroke-width="1.7" />
<line x1="505.30" y1="305.80" x2="511.70" y2="305.80" stroke="#04bf08" stroke-width="1.6" />
<line x1="505.30" y1="335.70" x2="511.70" y2="335.70" stroke="#04bf08" stroke-width="1.6" />
<line x1="547.70" y1="310.40" x2="547.70" y2="338.40" stroke="#04bf08" stroke-width="1.7" />
<line x1="544.50" y1="310.40" x2="550.90" y2="310.40" stroke="#04bf08" stroke-width="1.6" />
<line x1="544.50" y1="338.40" x2="550.90" y2="338.40" stroke="#04bf08" stroke-width="1.6" />
<line x1="586.50" y1="294.30" x2="586.50" y2="321.80" stroke="#04bf08" stroke-width="1.7" />
<line x1="583.30" y1="294.30" x2="589.70" y2="294.30" stroke="#04bf08" stroke-width="1.6" />
<line x1="583.30" y1="321.80" x2="589.70" y2="321.80" stroke="#04bf08" stroke-width="1.6" />
<circle cx="391.80" cy="328.30" r="3.1" fill="#04bf08"/>
<circle cx="430.70" cy="381.40" r="3.1" fill="#04bf08"/>
<circle cx="469.70" cy="340.10" r="3.1" fill="#04bf08"/>
<circle cx="508.50" cy="320.50" r="3.1" fill="#04bf08"/>
<circle cx="547.70" cy="324.80" r="3.1" fill="#04bf08"/>
<circle cx="586.50" cy="308.20" r="3.1" fill="#04bf08"/>
<polyline fill="none" stroke="#000" stroke-width="1.8" stroke-linejoin="round" points="391.80,335.10 430.70,381.40 469.70,369.10 508.50,368.20 547.70,367.80 586.50,361.50"/>
<line x1="391.80" y1="321.00" x2="391.80" y2="348.60" stroke="#000" stroke-width="1.7" />
<line x1="388.60" y1="321.00" x2="395.00" y2="321.00" stroke="#000" stroke-width="1.6" />
<line x1="388.60" y1="348.60" x2="395.00" y2="348.60" stroke="#000" stroke-width="1.6" />
<line x1="469.70" y1="352.60" x2="469.70" y2="384.70" stroke="#000" stroke-width="1.7" />
<line x1="466.50" y1="352.60" x2="472.90" y2="352.60" stroke="#000" stroke-width="1.6" />
<line x1="466.50" y1="384.70" x2="472.90" y2="384.70" stroke="#000" stroke-width="1.6" />
<line x1="508.50" y1="354.00" x2="508.50" y2="381.90" stroke="#000" stroke-width="1.7" />
<line x1="505.30" y1="354.00" x2="511.70" y2="354.00" stroke="#000" stroke-width="1.6" />
<line x1="505.30" y1="381.90" x2="511.70" y2="381.90" stroke="#000" stroke-width="1.6" />
<line x1="547.70" y1="352.70" x2="547.70" y2="383.10" stroke="#000" stroke-width="1.7" />
<line x1="544.50" y1="352.70" x2="550.90" y2="352.70" stroke="#000" stroke-width="1.6" />
<line x1="544.50" y1="383.10" x2="550.90" y2="383.10" stroke="#000" stroke-width="1.6" />
<line x1="586.50" y1="348.10" x2="586.50" y2="374.40" stroke="#000" stroke-width="1.7" />
<line x1="583.30" y1="348.10" x2="589.70" y2="348.10" stroke="#000" stroke-width="1.6" />
<line x1="583.30" y1="374.40" x2="589.70" y2="374.40" stroke="#000" stroke-width="1.6" />
<circle cx="391.80" cy="335.10" r="3.0" fill="#fff" stroke="#000" stroke-width="1.7"/>
<circle cx="430.70" cy="381.40" r="3.0" fill="#fff" stroke="#000" stroke-width="1.7"/>
<circle cx="469.70" cy="369.10" r="3.0" fill="#fff" stroke="#000" stroke-width="1.7"/>
<circle cx="508.50" cy="368.20" r="3.0" fill="#fff" stroke="#000" stroke-width="1.7"/>
<circle cx="547.70" cy="367.80" r="3.0" fill="#fff" stroke="#000" stroke-width="1.7"/>
<circle cx="586.50" cy="361.50" r="3.0" fill="#fff" stroke="#000" stroke-width="1.7"/>
<path d="M504.30,287.10 L504.30,283.90 M504.30,287.10 L507.34,286.11 M504.30,287.10 L506.18,289.69 M504.30,287.10 L502.42,289.69 M504.30,287.10 L501.26,286.11 " stroke="#ff780a" stroke-width="1.35" fill="none"/>
<path d="M512.70,287.10 L512.70,283.90 M512.70,287.10 L515.74,286.11 M512.70,287.10 L514.58,289.69 M512.70,287.10 L510.82,289.69 M512.70,287.10 L509.66,286.11 " stroke="#0000ff" stroke-width="1.35" fill="none"/>
<path d="M547.60,279.80 L547.60,276.60 M547.60,279.80 L550.64,278.81 M547.60,279.80 L549.48,282.39 M547.60,279.80 L545.72,282.39 M547.60,279.80 L544.56,278.81 " stroke="#0000ff" stroke-width="1.35" fill="none"/>
<path d="M582.60,280.70 L582.60,277.50 M582.60,280.70 L585.64,279.71 M582.60,280.70 L584.48,283.29 M582.60,280.70 L580.72,283.29 M582.60,280.70 L579.56,279.71 " stroke="#ff780a" stroke-width="1.35" fill="none"/>
<path d="M591.40,280.70 L591.40,277.50 M591.40,280.70 L594.44,279.71 M591.40,280.70 L593.28,283.29 M591.40,280.70 L589.52,283.29 M591.40,280.70 L588.36,279.71 " stroke="#0000ff" stroke-width="1.35" fill="none"/>
<path d="M596.50,306.80 L596.50,303.60 M596.50,306.80 L599.54,305.81 M596.50,306.80 L598.38,309.39 M596.50,306.80 L594.62,309.39 M596.50,306.80 L593.46,305.81 " stroke="#04bf08" stroke-width="1.35" fill="none"/>
<polyline points="380.90,391.20 383.60,385.60 386.30,391.20" fill="none" stroke="#4a4a4a" stroke-width="1.9" stroke-linejoin="bevel"/>
<text x="0.50" y="496.40" font-size="19" text-anchor="start" fill="#000" font-weight="bold" >e</text>
<line x1="113.55" y1="509.20" x2="113.55" y2="665.10" stroke="#999" stroke-width="1.35" />
<line x1="57.40" y1="639.20" x2="289.00" y2="639.20" stroke="#303030" stroke-width="1.2" stroke-dasharray="2.1 1.78"/>
<line x1="50.50" y1="665.24" x2="55.00" y2="665.24" stroke="#000" stroke-width="1.6" />
<text x="38.95" y="669.54" font-size="11.3" fill="#000" font-weight="bold" >-5</text>
<line x1="50.50" y1="639.20" x2="55.00" y2="639.20" stroke="#000" stroke-width="1.6" />
<text x="42.72" y="643.50" font-size="11.3" fill="#000" font-weight="bold" >0</text>
<line x1="50.50" y1="613.16" x2="55.00" y2="613.16" stroke="#000" stroke-width="1.6" />
<text x="42.72" y="617.46" font-size="11.3" fill="#000" font-weight="bold" >5</text>
<line x1="50.50" y1="587.12" x2="55.00" y2="587.12" stroke="#000" stroke-width="1.6" />
<path d="M40.72,591.42 L40.72,583.33 L39.65,583.33 L39.09,584.07 L38.13,584.81 L37.00,585.32 L37.00,586.73 L38.01,586.33 L38.69,585.94 L39.26,585.54 L39.26,591.42Z" fill="#000"/>
<text x="42.72" y="591.42" font-size="11.3" fill="#000" font-weight="bold" >0</text>
<line x1="50.50" y1="561.08" x2="55.00" y2="561.08" stroke="#000" stroke-width="1.6" />
<path d="M40.72,565.38 L40.72,557.29 L39.65,557.29 L39.09,558.03 L38.13,558.77 L37.00,559.28 L37.00,560.69 L38.01,560.29 L38.69,559.90 L39.26,559.50 L39.26,565.38Z" fill="#000"/>
<text x="42.72" y="565.38" font-size="11.3" fill="#000" font-weight="bold" >5</text>
<line x1="50.50" y1="535.04" x2="55.00" y2="535.04" stroke="#000" stroke-width="1.6" />
<text x="36.43" y="539.34" font-size="11.3" fill="#000" font-weight="bold" >20</text>
<line x1="50.50" y1="509.00" x2="55.00" y2="509.00" stroke="#000" stroke-width="1.6" />
<text x="36.43" y="513.30" font-size="11.3" fill="#000" font-weight="bold" >25</text>
<path d="M55.00,508.00 L55.00,665.10 L288.50,665.10" fill="none" stroke="#000" stroke-width="1.85"/>
<line x1="74.30" y1="665.10" x2="74.30" y2="669.30" stroke="#000" stroke-width="1.6" />
<text x="68.68" y="682.20" font-size="11.3" fill="#000" font-weight="bold" >-9</text>
<line x1="113.20" y1="665.10" x2="113.20" y2="669.30" stroke="#000" stroke-width="1.6" />
<text x="110.06" y="682.20" font-size="11.3" fill="#000" font-weight="bold" >0</text>
<line x1="152.00" y1="665.10" x2="152.00" y2="669.30" stroke="#000" stroke-width="1.6" />
<text x="148.86" y="682.20" font-size="11.3" fill="#000" font-weight="bold" >4</text>
<line x1="191.00" y1="665.10" x2="191.00" y2="669.30" stroke="#000" stroke-width="1.6" />
<text x="187.86" y="682.20" font-size="11.3" fill="#000" font-weight="bold" >8</text>
<line x1="229.90" y1="665.10" x2="229.90" y2="669.30" stroke="#000" stroke-width="1.6" />
<path d="M227.91,682.20 L227.91,674.11 L226.84,674.11 L226.27,674.86 L225.31,675.59 L224.18,676.10 L224.18,677.51 L225.20,677.12 L225.88,676.72 L226.44,676.32 L226.44,682.20Z" fill="#000"/>
<text x="229.90" y="682.20" font-size="11.3" fill="#000" font-weight="bold" >2</text>
<line x1="269.00" y1="665.10" x2="269.00" y2="669.30" stroke="#000" stroke-width="1.6" />
<path d="M267.01,682.20 L267.01,674.11 L265.94,674.11 L265.37,674.86 L264.41,675.59 L263.28,676.10 L263.28,677.51 L264.30,677.12 L264.98,676.72 L265.54,676.32 L265.54,682.20Z" fill="#000"/>
<text x="269.00" y="682.20" font-size="11.3" fill="#000" font-weight="bold" >6</text>
<text x="171.75" y="703.70" font-size="13" text-anchor="middle" fill="#000" font-weight="bold" >Duration of Treatment (Months)</text>
<text transform="translate(10.20,587.30) rotate(-90)" font-size="12.9" text-anchor="middle" font-weight="bold">Femur Neck aBMD</text>
<text transform="translate(25.60,587.55) rotate(-90)" font-size="12.9" text-anchor="middle" font-weight="bold">(% Change vs. Month 0)</text>
<polyline fill="none" stroke="#8a8a8a" stroke-width="1.6" stroke-linejoin="round" points="74.30,645.10 113.20,639.20 152.00,629.10 191.00,638.80 229.90,626.10 269.00,628.20"/>
<line x1="74.30" y1="637.00" x2="74.30" y2="653.90" stroke="#8a8a8a" stroke-width="1.7" />
<line x1="71.10" y1="637.00" x2="77.50" y2="637.00" stroke="#8a8a8a" stroke-width="1.6" />
<line x1="71.10" y1="653.90" x2="77.50" y2="653.90" stroke="#8a8a8a" stroke-width="1.6" />
<line x1="152.00" y1="618.50" x2="152.00" y2="639.70" stroke="#8a8a8a" stroke-width="1.7" />
<line x1="148.80" y1="618.50" x2="155.20" y2="618.50" stroke="#8a8a8a" stroke-width="1.6" />
<line x1="148.80" y1="639.70" x2="155.20" y2="639.70" stroke="#8a8a8a" stroke-width="1.6" />
<line x1="191.00" y1="629.10" x2="191.00" y2="649.80" stroke="#8a8a8a" stroke-width="1.7" />
<line x1="187.80" y1="629.10" x2="194.20" y2="629.10" stroke="#8a8a8a" stroke-width="1.6" />
<line x1="187.80" y1="649.80" x2="194.20" y2="649.80" stroke="#8a8a8a" stroke-width="1.6" />
<line x1="229.90" y1="614.20" x2="229.90" y2="637.50" stroke="#8a8a8a" stroke-width="1.7" />
<line x1="226.70" y1="614.20" x2="233.10" y2="614.20" stroke="#8a8a8a" stroke-width="1.6" />
<line x1="226.70" y1="637.50" x2="233.10" y2="637.50" stroke="#8a8a8a" stroke-width="1.6" />
<line x1="269.00" y1="621.20" x2="269.00" y2="635.00" stroke="#8a8a8a" stroke-width="1.7" />
<line x1="265.80" y1="621.20" x2="272.20" y2="621.20" stroke="#8a8a8a" stroke-width="1.6" />
<line x1="265.80" y1="635.00" x2="272.20" y2="635.00" stroke="#8a8a8a" stroke-width="1.6" />
<circle cx="74.30" cy="645.10" r="3.1" fill="#8a8a8a"/>
<circle cx="113.20" cy="639.20" r="3.1" fill="#8a8a8a"/>
<circle cx="152.00" cy="629.10" r="3.1" fill="#8a8a8a"/>
<circle cx="191.00" cy="638.80" r="3.1" fill="#8a8a8a"/>
<circle cx="229.90" cy="626.10" r="3.1" fill="#8a8a8a"/>
<circle cx="269.00" cy="628.20" r="3.1" fill="#8a8a8a"/>
<polyline fill="none" stroke="#0000ff" stroke-width="1.8" stroke-linejoin="round" points="74.30,617.10 113.20,639.20 152.00,578.20 191.00,564.00 229.90,554.90 269.00,547.70"/>
<line x1="74.30" y1="607.80" x2="74.30" y2="626.80" stroke="#0000ff" stroke-width="1.7" />
<line x1="71.10" y1="607.80" x2="77.50" y2="607.80" stroke="#0000ff" stroke-width="1.6" />
<line x1="71.10" y1="626.80" x2="77.50" y2="626.80" stroke="#0000ff" stroke-width="1.6" />
<line x1="152.00" y1="566.80" x2="152.00" y2="590.10" stroke="#0000ff" stroke-width="1.7" />
<line x1="148.80" y1="566.80" x2="155.20" y2="566.80" stroke="#0000ff" stroke-width="1.6" />
<line x1="148.80" y1="590.10" x2="155.20" y2="590.10" stroke="#0000ff" stroke-width="1.6" />
<line x1="191.00" y1="555.50" x2="191.00" y2="572.50" stroke="#0000ff" stroke-width="1.7" />
<line x1="187.80" y1="555.50" x2="194.20" y2="555.50" stroke="#0000ff" stroke-width="1.6" />
<line x1="187.80" y1="572.50" x2="194.20" y2="572.50" stroke="#0000ff" stroke-width="1.6" />
<line x1="229.90" y1="547.00" x2="229.90" y2="562.50" stroke="#0000ff" stroke-width="1.7" />
<line x1="226.70" y1="547.00" x2="233.10" y2="547.00" stroke="#0000ff" stroke-width="1.6" />
<line x1="226.70" y1="562.50" x2="233.10" y2="562.50" stroke="#0000ff" stroke-width="1.6" />
<line x1="269.00" y1="535.80" x2="269.00" y2="560.40" stroke="#0000ff" stroke-width="1.7" />
<line x1="265.80" y1="535.80" x2="272.20" y2="535.80" stroke="#0000ff" stroke-width="1.6" />
<line x1="265.80" y1="560.40" x2="272.20" y2="560.40" stroke="#0000ff" stroke-width="1.6" />
<path d="M74.30,613.70 L77.50,617.10 L74.30,620.50 L71.10,617.10Z" fill="#0000ff"/>
<path d="M113.20,635.80 L116.40,639.20 L113.20,642.60 L110.00,639.20Z" fill="#0000ff"/>
<path d="M152.00,574.80 L155.20,578.20 L152.00,581.60 L148.80,578.20Z" fill="#0000ff"/>
<path d="M191.00,560.60 L194.20,564.00 L191.00,567.40 L187.80,564.00Z" fill="#0000ff"/>
<path d="M229.90,551.50 L233.10,554.90 L229.90,558.30 L226.70,554.90Z" fill="#0000ff"/>
<path d="M269.00,544.30 L272.20,547.70 L269.00,551.10 L265.80,547.70Z" fill="#0000ff"/>
<polyline fill="none" stroke="#ff780a" stroke-width="1.8" stroke-linejoin="round" points="74.30,602.70 113.20,639.20 152.00,569.70 191.00,557.70 229.90,547.70 269.00,540.70"/>
<line x1="74.30" y1="591.70" x2="74.30" y2="613.70" stroke="#ff780a" stroke-width="1.7" />
<line x1="71.10" y1="591.70" x2="77.50" y2="591.70" stroke="#ff780a" stroke-width="1.6" />
<line x1="71.10" y1="613.70" x2="77.50" y2="613.70" stroke="#ff780a" stroke-width="1.6" />
<line x1="152.00" y1="554.10" x2="152.00" y2="585.80" stroke="#ff780a" stroke-width="1.7" />
<line x1="148.80" y1="554.10" x2="155.20" y2="554.10" stroke="#ff780a" stroke-width="1.6" />
<line x1="148.80" y1="585.80" x2="155.20" y2="585.80" stroke="#ff780a" stroke-width="1.6" />
<line x1="191.00" y1="543.50" x2="191.00" y2="571.90" stroke="#ff780a" stroke-width="1.7" />
<line x1="187.80" y1="543.50" x2="194.20" y2="543.50" stroke="#ff780a" stroke-width="1.6" />
<line x1="187.80" y1="571.90" x2="194.20" y2="571.90" stroke="#ff780a" stroke-width="1.6" />
<line x1="229.90" y1="536.50" x2="229.90" y2="559.20" stroke="#ff780a" stroke-width="1.7" />
<line x1="226.70" y1="536.50" x2="233.10" y2="536.50" stroke="#ff780a" stroke-width="1.6" />
<line x1="226.70" y1="559.20" x2="233.10" y2="559.20" stroke="#ff780a" stroke-width="1.6" />
<line x1="269.00" y1="525.30" x2="269.00" y2="556.20" stroke="#ff780a" stroke-width="1.7" />
<line x1="265.80" y1="525.30" x2="272.20" y2="525.30" stroke="#ff780a" stroke-width="1.6" />
<line x1="265.80" y1="556.20" x2="272.20" y2="556.20" stroke="#ff780a" stroke-width="1.6" />
<path d="M71.20,599.80 L77.40,599.80 L74.30,605.60Z" fill="#ff780a"/>
<path d="M110.10,636.30 L116.30,636.30 L113.20,642.10Z" fill="#ff780a"/>
<path d="M148.90,566.80 L155.10,566.80 L152.00,572.60Z" fill="#ff780a"/>
<path d="M187.90,554.80 L194.10,554.80 L191.00,560.60Z" fill="#ff780a"/>
<path d="M226.80,544.80 L233.00,544.80 L229.90,550.60Z" fill="#ff780a"/>
<path d="M265.90,537.80 L272.10,537.80 L269.00,543.60Z" fill="#ff780a"/>
<polyline fill="none" stroke="#04bf08" stroke-width="1.8" stroke-linejoin="round" points="74.30,603.00 113.20,639.20 152.00,579.50 191.00,575.70 229.90,549.20 269.00,566.80"/>
<line x1="74.30" y1="593.40" x2="74.30" y2="613.20" stroke="#04bf08" stroke-width="1.7" />
<line x1="71.10" y1="593.40" x2="77.50" y2="593.40" stroke="#04bf08" stroke-width="1.6" />
<line x1="71.10" y1="613.20" x2="77.50" y2="613.20" stroke="#04bf08" stroke-width="1.6" />
<line x1="152.00" y1="561.90" x2="152.00" y2="596.40" stroke="#04bf08" stroke-width="1.7" />
<line x1="148.80" y1="561.90" x2="155.20" y2="561.90" stroke="#04bf08" stroke-width="1.6" />
<line x1="148.80" y1="596.40" x2="155.20" y2="596.40" stroke="#04bf08" stroke-width="1.6" />
<line x1="191.00" y1="563.40" x2="191.00" y2="587.30" stroke="#04bf08" stroke-width="1.7" />
<line x1="187.80" y1="563.40" x2="194.20" y2="563.40" stroke="#04bf08" stroke-width="1.6" />
<line x1="187.80" y1="587.30" x2="194.20" y2="587.30" stroke="#04bf08" stroke-width="1.6" />
<line x1="229.90" y1="528.00" x2="229.90" y2="571.40" stroke="#04bf08" stroke-width="1.7" />
<line x1="226.70" y1="528.00" x2="233.10" y2="528.00" stroke="#04bf08" stroke-width="1.6" />
<line x1="226.70" y1="571.40" x2="233.10" y2="571.40" stroke="#04bf08" stroke-width="1.6" />
<line x1="269.00" y1="543.50" x2="269.00" y2="590.00" stroke="#04bf08" stroke-width="1.7" />
<line x1="265.80" y1="543.50" x2="272.20" y2="543.50" stroke="#04bf08" stroke-width="1.6" />
<line x1="265.80" y1="590.00" x2="272.20" y2="590.00" stroke="#04bf08" stroke-width="1.6" />
<circle cx="74.30" cy="603.00" r="3.1" fill="#04bf08"/>
<circle cx="113.20" cy="639.20" r="3.1" fill="#04bf08"/>
<circle cx="152.00" cy="579.50" r="3.1" fill="#04bf08"/>
<circle cx="191.00" cy="575.70" r="3.1" fill="#04bf08"/>
<circle cx="229.90" cy="549.20" r="3.1" fill="#04bf08"/>
<circle cx="269.00" cy="566.80" r="3.1" fill="#04bf08"/>
<polyline fill="none" stroke="#000" stroke-width="1.8" stroke-linejoin="round" points="74.30,599.00 113.20,639.20 152.00,618.00 191.00,613.80 229.90,598.60 269.00,590.10"/>
<line x1="74.30" y1="589.50" x2="74.30" y2="608.10" stroke="#000" stroke-width="1.7" />
<line x1="71.10" y1="589.50" x2="77.50" y2="589.50" stroke="#000" stroke-width="1.6" />
<line x1="71.10" y1="608.10" x2="77.50" y2="608.10" stroke="#000" stroke-width="1.6" />
<line x1="152.00" y1="609.20" x2="152.00" y2="626.10" stroke="#000" stroke-width="1.7" />
<line x1="148.80" y1="609.20" x2="155.20" y2="609.20" stroke="#000" stroke-width="1.6" />
<line x1="148.80" y1="626.10" x2="155.20" y2="626.10" stroke="#000" stroke-width="1.6" />
<line x1="191.00" y1="604.90" x2="191.00" y2="621.90" stroke="#000" stroke-width="1.7" />
<line x1="187.80" y1="604.90" x2="194.20" y2="604.90" stroke="#000" stroke-width="1.6" />
<line x1="187.80" y1="621.90" x2="194.20" y2="621.90" stroke="#000" stroke-width="1.6" />
<line x1="229.90" y1="589.40" x2="229.90" y2="607.90" stroke="#000" stroke-width="1.7" />
<line x1="226.70" y1="589.40" x2="233.10" y2="589.40" stroke="#000" stroke-width="1.6" />
<line x1="226.70" y1="607.90" x2="233.10" y2="607.90" stroke="#000" stroke-width="1.6" />
<line x1="269.00" y1="574.00" x2="269.00" y2="605.30" stroke="#000" stroke-width="1.7" />
<line x1="265.80" y1="574.00" x2="272.20" y2="574.00" stroke="#000" stroke-width="1.6" />
<line x1="265.80" y1="605.30" x2="272.20" y2="605.30" stroke="#000" stroke-width="1.6" />
<circle cx="74.30" cy="599.00" r="3.0" fill="#fff" stroke="#000" stroke-width="1.7"/>
<circle cx="113.20" cy="639.20" r="3.0" fill="#fff" stroke="#000" stroke-width="1.7"/>
<circle cx="152.00" cy="618.00" r="3.0" fill="#fff" stroke="#000" stroke-width="1.7"/>
<circle cx="191.00" cy="613.80" r="3.0" fill="#fff" stroke="#000" stroke-width="1.7"/>
<circle cx="229.90" cy="598.60" r="3.0" fill="#fff" stroke="#000" stroke-width="1.7"/>
<circle cx="269.00" cy="590.10" r="3.0" fill="#fff" stroke="#000" stroke-width="1.7"/>
<path d="M152.10,544.70 L152.10,541.50 M152.10,544.70 L155.14,543.71 M152.10,544.70 L153.98,547.29 M152.10,544.70 L150.22,547.29 M152.10,544.70 L149.06,543.71 " stroke="#ff780a" stroke-width="1.35" fill="none"/>
<path d="M186.80,534.10 L186.80,530.90 M186.80,534.10 L189.84,533.11 M186.80,534.10 L188.68,536.69 M186.80,534.10 L184.92,536.69 M186.80,534.10 L183.76,533.11 " stroke="#ff780a" stroke-width="1.35" fill="none"/>
<path d="M195.30,534.10 L195.30,530.90 M195.30,534.10 L198.34,533.11 M195.30,534.10 L197.18,536.69 M195.30,534.10 L193.42,536.69 M195.30,534.10 L192.26,533.11 " stroke="#0000ff" stroke-width="1.35" fill="none"/>
<path d="M226.80,518.60 L226.80,515.40 M226.80,518.60 L229.84,517.61 M226.80,518.60 L228.68,521.19 M226.80,518.60 L224.92,521.19 M226.80,518.60 L223.76,517.61 " stroke="#ff780a" stroke-width="1.35" fill="none"/>
<path d="M234.80,518.60 L234.80,515.40 M234.80,518.60 L237.84,517.61 M234.80,518.60 L236.68,521.19 M234.80,518.60 L232.92,521.19 M234.80,518.60 L231.76,517.61 " stroke="#0000ff" stroke-width="1.35" fill="none"/>
<polyline points="63.00,649.30 65.70,643.70 68.40,649.30" fill="none" stroke="#4a4a4a" stroke-width="1.9" stroke-linejoin="bevel"/>
<text x="317.00" y="496.40" font-size="19" text-anchor="start" fill="#000" font-weight="bold" >f</text>
<line x1="432.40" y1="509.40" x2="432.40" y2="665.10" stroke="#a0a0a0" stroke-width="1.35" />
<line x1="376.00" y1="626.50" x2="608.50" y2="626.50" stroke="#303030" stroke-width="1.2" stroke-dasharray="2.1 1.78"/>
<line x1="369.10" y1="665.60" x2="373.60" y2="665.60" stroke="#000" stroke-width="1.6" />
<text x="357.55" y="669.90" font-size="11.3" fill="#000" font-weight="bold" >-5</text>
<line x1="369.10" y1="626.50" x2="373.60" y2="626.50" stroke="#000" stroke-width="1.6" />
<text x="361.32" y="630.80" font-size="11.3" fill="#000" font-weight="bold" >0</text>
<line x1="369.10" y1="587.40" x2="373.60" y2="587.40" stroke="#000" stroke-width="1.6" />
<text x="361.32" y="591.70" font-size="11.3" fill="#000" font-weight="bold" >5</text>
<line x1="369.10" y1="548.30" x2="373.60" y2="548.30" stroke="#000" stroke-width="1.6" />
<path d="M359.32,552.60 L359.32,544.51 L358.25,544.51 L357.69,545.25 L356.73,545.99 L355.60,546.50 L355.60,547.91 L356.61,547.51 L357.29,547.12 L357.86,546.72 L357.86,552.60Z" fill="#000"/>
<text x="361.32" y="552.60" font-size="11.3" fill="#000" font-weight="bold" >0</text>
<line x1="369.10" y1="509.20" x2="373.60" y2="509.20" stroke="#000" stroke-width="1.6" />
<path d="M359.32,513.50 L359.32,505.41 L358.25,505.41 L357.69,506.15 L356.73,506.89 L355.60,507.40 L355.60,508.81 L356.61,508.42 L357.29,508.02 L357.86,507.62 L357.86,513.50Z" fill="#000"/>
<text x="361.32" y="513.50" font-size="11.3" fill="#000" font-weight="bold" >5</text>
<path d="M373.60,508.00 L373.60,665.10 L608.00,665.10" fill="none" stroke="#000" stroke-width="1.85"/>
<line x1="392.80" y1="665.10" x2="392.80" y2="669.30" stroke="#000" stroke-width="1.6" />
<text x="387.18" y="682.20" font-size="11.3" fill="#000" font-weight="bold" >-9</text>
<line x1="431.70" y1="665.10" x2="431.70" y2="669.30" stroke="#000" stroke-width="1.6" />
<text x="428.56" y="682.20" font-size="11.3" fill="#000" font-weight="bold" >0</text>
<line x1="471.00" y1="665.10" x2="471.00" y2="669.30" stroke="#000" stroke-width="1.6" />
<text x="467.86" y="682.20" font-size="11.3" fill="#000" font-weight="bold" >4</text>
<line x1="510.00" y1="665.10" x2="510.00" y2="669.30" stroke="#000" stroke-width="1.6" />
<text x="506.86" y="682.20" font-size="11.3" fill="#000" font-weight="bold" >8</text>
<line x1="549.00" y1="665.10" x2="549.00" y2="669.30" stroke="#000" stroke-width="1.6" />
<path d="M547.01,682.20 L547.01,674.11 L545.94,674.11 L545.37,674.86 L544.41,675.59 L543.28,676.10 L543.28,677.51 L544.30,677.12 L544.98,676.72 L545.54,676.32 L545.54,682.20Z" fill="#000"/>
<text x="549.00" y="682.20" font-size="11.3" fill="#000" font-weight="bold" >2</text>
<line x1="588.10" y1="665.10" x2="588.10" y2="669.30" stroke="#000" stroke-width="1.6" />
<path d="M586.11,682.20 L586.11,674.11 L585.04,674.11 L584.47,674.86 L583.51,675.59 L582.38,676.10 L582.38,677.51 L583.40,677.12 L584.08,676.72 L584.64,676.32 L584.64,682.20Z" fill="#000"/>
<text x="588.10" y="682.20" font-size="11.3" fill="#000" font-weight="bold" >6</text>
<text x="490.80" y="703.50" font-size="13" text-anchor="middle" fill="#000" font-weight="bold" >Duration of Treatment (Months)</text>
<text transform="translate(329.00,587.30) rotate(-90)" font-size="12.9" text-anchor="middle" font-weight="bold">Trochanter aBMD</text>
<text transform="translate(345.00,587.55) rotate(-90)" font-size="12.9" text-anchor="middle" font-weight="bold">(% Change vs. Month 0)</text>
<polyline fill="none" stroke="#8a8a8a" stroke-width="1.6" stroke-linejoin="round" points="392.80,621.40 431.70,626.50 471.00,599.00 510.00,619.30 549.00,630.60 588.10,606.50"/>
<line x1="392.80" y1="608.20" x2="392.80" y2="634.60" stroke="#8a8a8a" stroke-width="1.7" />
<line x1="389.60" y1="608.20" x2="396.00" y2="608.20" stroke="#8a8a8a" stroke-width="1.6" />
<line x1="389.60" y1="634.60" x2="396.00" y2="634.60" stroke="#8a8a8a" stroke-width="1.6" />
<line x1="471.00" y1="590.00" x2="471.00" y2="608.00" stroke="#8a8a8a" stroke-width="1.7" />
<line x1="467.80" y1="590.00" x2="474.20" y2="590.00" stroke="#8a8a8a" stroke-width="1.6" />
<line x1="467.80" y1="608.00" x2="474.20" y2="608.00" stroke="#8a8a8a" stroke-width="1.6" />
<line x1="510.00" y1="608.00" x2="510.00" y2="632.20" stroke="#8a8a8a" stroke-width="1.7" />
<line x1="506.80" y1="608.00" x2="513.20" y2="608.00" stroke="#8a8a8a" stroke-width="1.6" />
<line x1="506.80" y1="632.20" x2="513.20" y2="632.20" stroke="#8a8a8a" stroke-width="1.6" />
<line x1="549.00" y1="614.30" x2="549.00" y2="646.90" stroke="#8a8a8a" stroke-width="1.7" />
<line x1="545.80" y1="614.30" x2="552.20" y2="614.30" stroke="#8a8a8a" stroke-width="1.6" />
<line x1="545.80" y1="646.90" x2="552.20" y2="646.90" stroke="#8a8a8a" stroke-width="1.6" />
<line x1="588.10" y1="587.00" x2="588.10" y2="626.00" stroke="#8a8a8a" stroke-width="1.7" />
<line x1="584.90" y1="587.00" x2="591.30" y2="587.00" stroke="#8a8a8a" stroke-width="1.6" />
<line x1="584.90" y1="626.00" x2="591.30" y2="626.00" stroke="#8a8a8a" stroke-width="1.6" />
<circle cx="392.80" cy="621.40" r="3.1" fill="#8a8a8a"/>
<circle cx="431.70" cy="626.50" r="3.1" fill="#8a8a8a"/>
<circle cx="471.00" cy="599.00" r="3.1" fill="#8a8a8a"/>
<circle cx="510.00" cy="619.30" r="3.1" fill="#8a8a8a"/>
<circle cx="549.00" cy="630.60" r="3.1" fill="#8a8a8a"/>
<circle cx="588.10" cy="606.50" r="3.1" fill="#8a8a8a"/>
<polyline fill="none" stroke="#0000ff" stroke-width="1.8" stroke-linejoin="round" points="392.80,598.50 431.70,626.50 471.00,594.90 510.00,541.80 549.00,555.40 588.10,532.80"/>
<line x1="392.80" y1="586.10" x2="392.80" y2="611.20" stroke="#0000ff" stroke-width="1.7" />
<line x1="389.60" y1="586.10" x2="396.00" y2="586.10" stroke="#0000ff" stroke-width="1.6" />
<line x1="389.60" y1="611.20" x2="396.00" y2="611.20" stroke="#0000ff" stroke-width="1.6" />
<line x1="471.00" y1="580.90" x2="471.00" y2="606.20" stroke="#0000ff" stroke-width="1.7" />
<line x1="467.80" y1="580.90" x2="474.20" y2="580.90" stroke="#0000ff" stroke-width="1.6" />
<line x1="467.80" y1="606.20" x2="474.20" y2="606.20" stroke="#0000ff" stroke-width="1.6" />
<line x1="510.00" y1="523.10" x2="510.00" y2="560.50" stroke="#0000ff" stroke-width="1.7" />
<line x1="506.80" y1="523.10" x2="513.20" y2="523.10" stroke="#0000ff" stroke-width="1.6" />
<line x1="506.80" y1="560.50" x2="513.20" y2="560.50" stroke="#0000ff" stroke-width="1.6" />
<line x1="549.00" y1="535.00" x2="549.00" y2="575.80" stroke="#0000ff" stroke-width="1.7" />
<line x1="545.80" y1="535.00" x2="552.20" y2="535.00" stroke="#0000ff" stroke-width="1.6" />
<line x1="545.80" y1="575.80" x2="552.20" y2="575.80" stroke="#0000ff" stroke-width="1.6" />
<line x1="588.10" y1="517.60" x2="588.10" y2="548.00" stroke="#0000ff" stroke-width="1.7" />
<line x1="584.90" y1="517.60" x2="591.30" y2="517.60" stroke="#0000ff" stroke-width="1.6" />
<line x1="584.90" y1="548.00" x2="591.30" y2="548.00" stroke="#0000ff" stroke-width="1.6" />
<path d="M392.80,595.10 L396.00,598.50 L392.80,601.90 L389.60,598.50Z" fill="#0000ff"/>
<path d="M431.70,623.10 L434.90,626.50 L431.70,629.90 L428.50,626.50Z" fill="#0000ff"/>
<path d="M471.00,591.50 L474.20,594.90 L471.00,598.30 L467.80,594.90Z" fill="#0000ff"/>
<path d="M510.00,538.40 L513.20,541.80 L510.00,545.20 L506.80,541.80Z" fill="#0000ff"/>
<path d="M549.00,552.00 L552.20,555.40 L549.00,558.80 L545.80,555.40Z" fill="#0000ff"/>
<path d="M588.10,529.40 L591.30,532.80 L588.10,536.20 L584.90,532.80Z" fill="#0000ff"/>
<polyline fill="none" stroke="#ff780a" stroke-width="1.8" stroke-linejoin="round" points="392.80,571.90 431.70,626.50 471.00,562.80 510.00,558.30 549.00,571.90 588.10,546.30"/>
<line x1="392.80" y1="556.60" x2="392.80" y2="587.00" stroke="#ff780a" stroke-width="1.7" />
<line x1="389.60" y1="556.60" x2="396.00" y2="556.60" stroke="#ff780a" stroke-width="1.6" />
<line x1="389.60" y1="587.00" x2="396.00" y2="587.00" stroke="#ff780a" stroke-width="1.6" />
<line x1="471.00" y1="541.80" x2="471.00" y2="583.60" stroke="#ff780a" stroke-width="1.7" />
<line x1="467.80" y1="541.80" x2="474.20" y2="541.80" stroke="#ff780a" stroke-width="1.6" />
<line x1="467.80" y1="583.60" x2="474.20" y2="583.60" stroke="#ff780a" stroke-width="1.6" />
<line x1="510.00" y1="540.70" x2="510.00" y2="576.80" stroke="#ff780a" stroke-width="1.7" />
<line x1="506.80" y1="540.70" x2="513.20" y2="540.70" stroke="#ff780a" stroke-width="1.6" />
<line x1="506.80" y1="576.80" x2="513.20" y2="576.80" stroke="#ff780a" stroke-width="1.6" />
<line x1="549.00" y1="550.80" x2="549.00" y2="593.10" stroke="#ff780a" stroke-width="1.7" />
<line x1="545.80" y1="550.80" x2="552.20" y2="550.80" stroke="#ff780a" stroke-width="1.6" />
<line x1="545.80" y1="593.10" x2="552.20" y2="593.10" stroke="#ff780a" stroke-width="1.6" />
<line x1="588.10" y1="524.40" x2="588.10" y2="568.00" stroke="#ff780a" stroke-width="1.7" />
<line x1="584.90" y1="524.40" x2="591.30" y2="524.40" stroke="#ff780a" stroke-width="1.6" />
<line x1="584.90" y1="568.00" x2="591.30" y2="568.00" stroke="#ff780a" stroke-width="1.6" />
<path d="M389.70,569.00 L395.90,569.00 L392.80,574.80Z" fill="#ff780a"/>
<path d="M428.60,623.60 L434.80,623.60 L431.70,629.40Z" fill="#ff780a"/>
<path d="M467.90,559.90 L474.10,559.90 L471.00,565.70Z" fill="#ff780a"/>
<path d="M506.90,555.40 L513.10,555.40 L510.00,561.20Z" fill="#ff780a"/>
<path d="M545.90,569.00 L552.10,569.00 L549.00,574.80Z" fill="#ff780a"/>
<path d="M585.00,543.40 L591.20,543.40 L588.10,549.20Z" fill="#ff780a"/>
<polyline fill="none" stroke="#04bf08" stroke-width="1.8" stroke-linejoin="round" points="392.80,575.90 431.70,626.50 471.00,595.40 510.00,570.50 549.00,583.20 588.10,555.40"/>
<line x1="392.80" y1="562.40" x2="392.80" y2="590.00" stroke="#04bf08" stroke-width="1.7" />
<line x1="389.60" y1="562.40" x2="396.00" y2="562.40" stroke="#04bf08" stroke-width="1.6" />
<line x1="389.60" y1="590.00" x2="396.00" y2="590.00" stroke="#04bf08" stroke-width="1.6" />
<line x1="471.00" y1="584.70" x2="471.00" y2="605.10" stroke="#04bf08" stroke-width="1.7" />
<line x1="467.80" y1="584.70" x2="474.20" y2="584.70" stroke="#04bf08" stroke-width="1.6" />
<line x1="467.80" y1="605.10" x2="474.20" y2="605.10" stroke="#04bf08" stroke-width="1.6" />
<line x1="510.00" y1="560.60" x2="510.00" y2="580.90" stroke="#04bf08" stroke-width="1.7" />
<line x1="506.80" y1="560.60" x2="513.20" y2="560.60" stroke="#04bf08" stroke-width="1.6" />
<line x1="506.80" y1="580.90" x2="513.20" y2="580.90" stroke="#04bf08" stroke-width="1.6" />
<line x1="549.00" y1="567.80" x2="549.00" y2="598.30" stroke="#04bf08" stroke-width="1.7" />
<line x1="545.80" y1="567.80" x2="552.20" y2="567.80" stroke="#04bf08" stroke-width="1.6" />
<line x1="545.80" y1="598.30" x2="552.20" y2="598.30" stroke="#04bf08" stroke-width="1.6" />
<line x1="588.10" y1="545.20" x2="588.10" y2="566.00" stroke="#04bf08" stroke-width="1.7" />
<line x1="584.90" y1="545.20" x2="591.30" y2="545.20" stroke="#04bf08" stroke-width="1.6" />
<line x1="584.90" y1="566.00" x2="591.30" y2="566.00" stroke="#04bf08" stroke-width="1.6" />
<circle cx="392.80" cy="575.90" r="3.1" fill="#04bf08"/>
<circle cx="431.70" cy="626.50" r="3.1" fill="#04bf08"/>
<circle cx="471.00" cy="595.40" r="3.1" fill="#04bf08"/>
<circle cx="510.00" cy="570.50" r="3.1" fill="#04bf08"/>
<circle cx="549.00" cy="583.20" r="3.1" fill="#04bf08"/>
<circle cx="588.10" cy="555.40" r="3.1" fill="#04bf08"/>
<polyline fill="none" stroke="#000" stroke-width="1.8" stroke-linejoin="round" points="392.80,594.60 431.70,626.50 471.00,626.60 510.00,622.00 549.00,617.50 588.10,606.70"/>
<line x1="392.80" y1="582.70" x2="392.80" y2="606.10" stroke="#000" stroke-width="1.7" />
<line x1="389.60" y1="582.70" x2="396.00" y2="582.70" stroke="#000" stroke-width="1.6" />
<line x1="389.60" y1="606.10" x2="396.00" y2="606.10" stroke="#000" stroke-width="1.6" />
<line x1="471.00" y1="613.40" x2="471.00" y2="640.10" stroke="#000" stroke-width="1.7" />
<line x1="467.80" y1="613.40" x2="474.20" y2="613.40" stroke="#000" stroke-width="1.6" />
<line x1="467.80" y1="640.10" x2="474.20" y2="640.10" stroke="#000" stroke-width="1.6" />
<line x1="510.00" y1="604.40" x2="510.00" y2="640.60" stroke="#000" stroke-width="1.7" />
<line x1="506.80" y1="604.40" x2="513.20" y2="604.40" stroke="#000" stroke-width="1.6" />
<line x1="506.80" y1="640.60" x2="513.20" y2="640.60" stroke="#000" stroke-width="1.6" />
<line x1="549.00" y1="597.60" x2="549.00" y2="638.30" stroke="#000" stroke-width="1.7" />
<line x1="545.80" y1="597.60" x2="552.20" y2="597.60" stroke="#000" stroke-width="1.6" />
<line x1="545.80" y1="638.30" x2="552.20" y2="638.30" stroke="#000" stroke-width="1.6" />
<line x1="588.10" y1="589.30" x2="588.10" y2="623.80" stroke="#000" stroke-width="1.7" />
<line x1="584.90" y1="589.30" x2="591.30" y2="589.30" stroke="#000" stroke-width="1.6" />
<line x1="584.90" y1="623.80" x2="591.30" y2="623.80" stroke="#000" stroke-width="1.6" />
<circle cx="392.80" cy="594.60" r="3.0" fill="#fff" stroke="#000" stroke-width="1.7"/>
<circle cx="431.70" cy="626.50" r="3.0" fill="#fff" stroke="#000" stroke-width="1.7"/>
<circle cx="471.00" cy="626.60" r="3.0" fill="#fff" stroke="#000" stroke-width="1.7"/>
<circle cx="510.00" cy="622.00" r="3.0" fill="#fff" stroke="#000" stroke-width="1.7"/>
<circle cx="549.00" cy="617.50" r="3.0" fill="#fff" stroke="#000" stroke-width="1.7"/>
<circle cx="588.10" cy="606.70" r="3.0" fill="#fff" stroke="#000" stroke-width="1.7"/>
<path d="M509.70,515.10 L509.70,511.90 M509.70,515.10 L512.74,514.11 M509.70,515.10 L511.58,517.69 M509.70,515.10 L507.82,517.69 M509.70,515.10 L506.66,514.11 " stroke="#0000ff" stroke-width="1.35" fill="none"/>
<path d="M516.50,550.50 L516.50,547.30 M516.50,550.50 L519.54,549.51 M516.50,550.50 L518.38,553.09 M516.50,550.50 L514.62,553.09 M516.50,550.50 L513.46,549.51 " stroke="#ff780a" stroke-width="1.35" fill="none"/>
<path d="M588.20,509.90 L588.20,506.70 M588.20,509.90 L591.24,508.91 M588.20,509.90 L590.08,512.49 M588.20,509.90 L586.32,512.49 M588.20,509.90 L585.16,508.91 " stroke="#0000ff" stroke-width="1.35" fill="none"/>
<path d="M597.20,553.90 L597.20,550.70 M597.20,553.90 L600.24,552.91 M597.20,553.90 L599.08,556.49 M597.20,553.90 L595.32,556.49 M597.20,553.90 L594.16,552.91 " stroke="#04bf08" stroke-width="1.35" fill="none"/>
<polyline points="382.10,624.00 384.80,618.40 387.50,624.00" fill="none" stroke="#4a4a4a" stroke-width="1.9" stroke-linejoin="bevel"/>
<line x1="60.30" y1="22.90" x2="76.80" y2="22.90" stroke="#8a8a8a" stroke-width="1.75" />
<circle cx="68.60" cy="22.90" r="3.1" fill="#8a8a8a"/>
<text x="86.20" y="27.00" font-size="11.4" fill="#000" font-weight="bold" >Sham</text>
<line x1="60.30" y1="40.40" x2="76.80" y2="40.40" stroke="#000" stroke-width="1.75" />
<circle cx="68.60" cy="40.40" r="3.0" fill="#fff" stroke="#000" stroke-width="1.7"/>
<text x="86.20" y="44.40" font-size="11.4" fill="#000" font-weight="bold" letter-spacing="0.32">OVX-Veh</text>
<line x1="144.10" y1="23.00" x2="160.50" y2="23.00" stroke="#04bf08" stroke-width="1.75" />
<circle cx="152.60" cy="23.00" r="3.1" fill="#04bf08"/>
<text x="169.80" y="27.10" font-size="11.4" fill="#000" font-weight="bold" >ABL-0.2</text>
<line x1="144.10" y1="40.30" x2="160.50" y2="40.30" stroke="#ff780a" stroke-width="1.75" />
<path d="M149.90,37.40 L156.10,37.40 L153.00,43.20Z" fill="#ff780a"/>
<text x="169.80" y="44.30" font-size="11.4" fill="#000" font-weight="bold" >ABL-</text>
<path d="M201.36,44.30 L201.36,36.14 L200.27,36.14 L199.70,36.89 L198.74,37.63 L197.60,38.14 L197.60,39.57 L198.62,39.17 L199.31,38.77 L199.88,38.37 L199.88,44.30Z" fill="#000"/>
<line x1="221.70" y1="23.00" x2="238.30" y2="23.00" stroke="#0000ff" stroke-width="1.75" />
<path d="M230.00,19.60 L233.20,23.00 L230.00,26.40 L226.80,23.00Z" fill="#0000ff"/>
<text x="247.40" y="27.10" font-size="11.4" fill="#000" font-weight="bold" >ABL-5</text>
</g></svg>
</body></html>
